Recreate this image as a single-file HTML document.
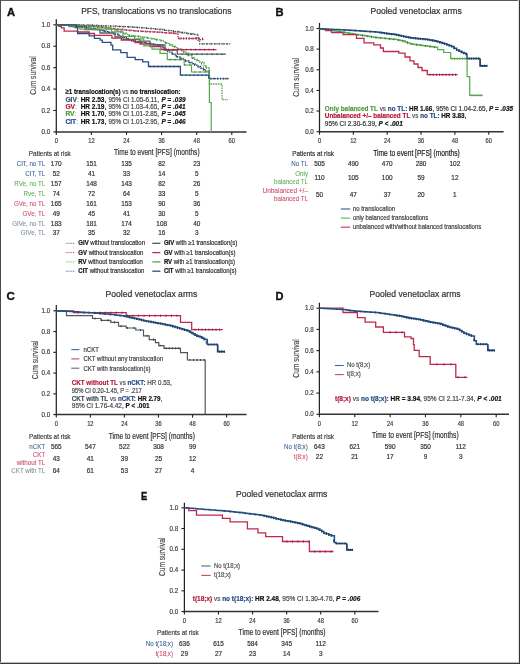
<!DOCTYPE html><html><head><meta charset="utf-8"><style>html,body{margin:0;padding:0;background:#fff;}svg{display:block;will-change:transform;}text{font-family:"Liberation Sans",sans-serif;}</style></head><body>
<svg width="520" height="664" viewBox="0 0 520 664">
<rect x="0" y="0" width="520" height="664" fill="#fff"/>
<text x="6.90" y="15.90" font-size="11.2" fill="#111" stroke="#111" stroke-width="0.35" font-weight="bold">A</text>
<text x="81.20" y="13.80" font-size="8.4" fill="#333" stroke="#333" stroke-width="0.2" textLength="150.30" lengthAdjust="spacingAndGlyphs">PFS, translocations vs no translocations</text>
<line x1="56.30" y1="19.30" x2="56.30" y2="132.50" stroke="#222" stroke-width="1.25"/>
<line x1="55.70" y1="131.90" x2="246.50" y2="131.90" stroke="#333" stroke-width="1.5"/>
<line x1="53.30" y1="131.90" x2="56.30" y2="131.90" stroke="#222" stroke-width="1.1"/>
<text x="50.10" y="134.00" font-size="6.7" fill="#444" stroke="#444" stroke-width="0.2" text-anchor="end" textLength="8.66" lengthAdjust="spacingAndGlyphs">0.0</text>
<line x1="53.30" y1="110.48" x2="56.30" y2="110.48" stroke="#222" stroke-width="1.1"/>
<text x="50.10" y="112.58" font-size="6.7" fill="#444" stroke="#444" stroke-width="0.2" text-anchor="end" textLength="8.66" lengthAdjust="spacingAndGlyphs">0.2</text>
<line x1="53.30" y1="89.06" x2="56.30" y2="89.06" stroke="#222" stroke-width="1.1"/>
<text x="50.10" y="91.16" font-size="6.7" fill="#444" stroke="#444" stroke-width="0.2" text-anchor="end" textLength="8.66" lengthAdjust="spacingAndGlyphs">0.4</text>
<line x1="53.30" y1="67.64" x2="56.30" y2="67.64" stroke="#222" stroke-width="1.1"/>
<text x="50.10" y="69.74" font-size="6.7" fill="#444" stroke="#444" stroke-width="0.2" text-anchor="end" textLength="8.66" lengthAdjust="spacingAndGlyphs">0.6</text>
<line x1="53.30" y1="46.22" x2="56.30" y2="46.22" stroke="#222" stroke-width="1.1"/>
<text x="50.10" y="48.32" font-size="6.7" fill="#444" stroke="#444" stroke-width="0.2" text-anchor="end" textLength="8.66" lengthAdjust="spacingAndGlyphs">0.8</text>
<line x1="53.30" y1="24.80" x2="56.30" y2="24.80" stroke="#222" stroke-width="1.1"/>
<text x="50.10" y="26.90" font-size="6.7" fill="#444" stroke="#444" stroke-width="0.2" text-anchor="end" textLength="8.66" lengthAdjust="spacingAndGlyphs">1.0</text>
<line x1="56.30" y1="131.90" x2="56.30" y2="134.90" stroke="#222" stroke-width="1.1"/>
<text x="56.30" y="143.10" font-size="6.7" fill="#444" stroke="#444" stroke-width="0.2" text-anchor="middle" textLength="3.20" lengthAdjust="spacingAndGlyphs">0</text>
<line x1="91.40" y1="131.90" x2="91.40" y2="134.90" stroke="#222" stroke-width="1.1"/>
<text x="91.40" y="143.10" font-size="6.7" fill="#444" stroke="#444" stroke-width="0.2" text-anchor="middle" textLength="6.41" lengthAdjust="spacingAndGlyphs">12</text>
<line x1="126.50" y1="131.90" x2="126.50" y2="134.90" stroke="#222" stroke-width="1.1"/>
<text x="126.50" y="143.10" font-size="6.7" fill="#444" stroke="#444" stroke-width="0.2" text-anchor="middle" textLength="6.41" lengthAdjust="spacingAndGlyphs">24</text>
<line x1="161.60" y1="131.90" x2="161.60" y2="134.90" stroke="#222" stroke-width="1.1"/>
<text x="161.60" y="143.10" font-size="6.7" fill="#444" stroke="#444" stroke-width="0.2" text-anchor="middle" textLength="6.41" lengthAdjust="spacingAndGlyphs">36</text>
<line x1="196.70" y1="131.90" x2="196.70" y2="134.90" stroke="#222" stroke-width="1.1"/>
<text x="196.70" y="143.10" font-size="6.7" fill="#444" stroke="#444" stroke-width="0.2" text-anchor="middle" textLength="6.41" lengthAdjust="spacingAndGlyphs">48</text>
<line x1="231.80" y1="131.90" x2="231.80" y2="134.90" stroke="#222" stroke-width="1.1"/>
<text x="231.80" y="143.10" font-size="6.7" fill="#444" stroke="#444" stroke-width="0.2" text-anchor="middle" textLength="6.41" lengthAdjust="spacingAndGlyphs">60</text>
<text transform="translate(36.40,75.55) rotate(-90)" font-size="8.4" fill="#444" stroke="#444" stroke-width="0.15" text-anchor="middle" textLength="38.6" lengthAdjust="spacingAndGlyphs">Cum survival</text>
<path d="M56.30 24.80H59.36V24.84H62.43V24.87H65.49V24.91H68.55V24.95H71.62V24.98H74.68V25.02H77.75V25.05H80.81V25.09H83.87V25.13H86.94V25.16H90.00V25.20H92.92V25.32H95.83V25.45H98.75V25.57H101.67V25.70H104.58V25.82H107.50V25.95H110.42V26.07H113.33V26.20H116.25V26.32H119.17V26.45H122.08V26.57H125.00V26.70H127.86V26.89H130.71V27.07H133.57V27.26H136.43V27.44H139.29V27.63H142.14V27.81H145.00V28.00H148.00V28.30H151.00V28.60H154.00V28.90H157.00V29.20H160.00V29.50H163.00V29.90H166.00V30.30H169.00V30.70H172.00V31.10H175.00V31.50H178.08V32.00H181.17V32.50H184.25V33.00H187.33V33.50H190.42V34.00H193.50V34.50H198.00" fill="none" stroke="#56606a" stroke-width="1.3" stroke-dasharray="1.6 0.9"/>
<path d="M198.00 34.50H198.00V40.40H199.60V43.80H230.40" fill="none" stroke="#56606a" stroke-width="1.3" stroke-dasharray="1.6 0.9"/>
<line x1="70.00" y1="24.06" x2="70.00" y2="25.86" stroke="#3a4048" stroke-width="0.9"/>
<line x1="74.50" y1="24.12" x2="74.50" y2="25.92" stroke="#3a4048" stroke-width="0.9"/>
<line x1="79.00" y1="24.17" x2="79.00" y2="25.97" stroke="#3a4048" stroke-width="0.9"/>
<line x1="83.50" y1="24.22" x2="83.50" y2="26.02" stroke="#3a4048" stroke-width="0.9"/>
<line x1="88.00" y1="24.28" x2="88.00" y2="26.08" stroke="#3a4048" stroke-width="0.9"/>
<line x1="92.50" y1="24.41" x2="92.50" y2="26.21" stroke="#3a4048" stroke-width="0.9"/>
<line x1="97.00" y1="24.60" x2="97.00" y2="26.40" stroke="#3a4048" stroke-width="0.9"/>
<line x1="101.50" y1="24.79" x2="101.50" y2="26.59" stroke="#3a4048" stroke-width="0.9"/>
<line x1="106.00" y1="24.99" x2="106.00" y2="26.79" stroke="#3a4048" stroke-width="0.9"/>
<line x1="110.50" y1="25.18" x2="110.50" y2="26.98" stroke="#3a4048" stroke-width="0.9"/>
<line x1="115.00" y1="25.37" x2="115.00" y2="27.17" stroke="#3a4048" stroke-width="0.9"/>
<line x1="119.50" y1="25.56" x2="119.50" y2="27.36" stroke="#3a4048" stroke-width="0.9"/>
<line x1="124.00" y1="25.76" x2="124.00" y2="27.56" stroke="#3a4048" stroke-width="0.9"/>
<line x1="128.50" y1="26.03" x2="128.50" y2="27.83" stroke="#3a4048" stroke-width="0.9"/>
<line x1="133.00" y1="26.32" x2="133.00" y2="28.12" stroke="#3a4048" stroke-width="0.9"/>
<line x1="137.50" y1="26.61" x2="137.50" y2="28.41" stroke="#3a4048" stroke-width="0.9"/>
<line x1="142.00" y1="26.91" x2="142.00" y2="28.70" stroke="#3a4048" stroke-width="0.9"/>
<line x1="146.50" y1="27.25" x2="146.50" y2="29.05" stroke="#3a4048" stroke-width="0.9"/>
<line x1="151.00" y1="27.70" x2="151.00" y2="29.50" stroke="#3a4048" stroke-width="0.9"/>
<line x1="155.50" y1="28.15" x2="155.50" y2="29.95" stroke="#3a4048" stroke-width="0.9"/>
<line x1="160.00" y1="28.60" x2="160.00" y2="30.40" stroke="#3a4048" stroke-width="0.9"/>
<line x1="164.50" y1="29.20" x2="164.50" y2="31.00" stroke="#3a4048" stroke-width="0.9"/>
<line x1="169.00" y1="29.80" x2="169.00" y2="31.60" stroke="#3a4048" stroke-width="0.9"/>
<line x1="173.50" y1="30.40" x2="173.50" y2="32.20" stroke="#3a4048" stroke-width="0.9"/>
<line x1="178.00" y1="31.09" x2="178.00" y2="32.89" stroke="#3a4048" stroke-width="0.9"/>
<line x1="182.50" y1="31.82" x2="182.50" y2="33.62" stroke="#3a4048" stroke-width="0.9"/>
<line x1="187.00" y1="32.55" x2="187.00" y2="34.35" stroke="#3a4048" stroke-width="0.9"/>
<line x1="191.50" y1="33.28" x2="191.50" y2="35.08" stroke="#3a4048" stroke-width="0.9"/>
<line x1="196.00" y1="36.88" x2="196.00" y2="38.68" stroke="#3a4048" stroke-width="0.9"/>
<line x1="203.00" y1="42.90" x2="203.00" y2="44.70" stroke="#3a4048" stroke-width="0.9"/>
<line x1="207.00" y1="42.90" x2="207.00" y2="44.70" stroke="#3a4048" stroke-width="0.9"/>
<line x1="211.00" y1="42.90" x2="211.00" y2="44.70" stroke="#3a4048" stroke-width="0.9"/>
<line x1="215.00" y1="42.90" x2="215.00" y2="44.70" stroke="#3a4048" stroke-width="0.9"/>
<line x1="219.00" y1="42.90" x2="219.00" y2="44.70" stroke="#3a4048" stroke-width="0.9"/>
<line x1="223.00" y1="42.90" x2="223.00" y2="44.70" stroke="#3a4048" stroke-width="0.9"/>
<line x1="227.00" y1="42.90" x2="227.00" y2="44.70" stroke="#3a4048" stroke-width="0.9"/>
<path d="M56.30 24.80H59.26V24.89H62.22V24.98H65.19V25.06H68.15V25.15H71.11V25.24H74.08V25.32H77.04V25.41H80.00V25.50H82.86V25.71H85.71V25.93H88.57V26.14H91.43V26.36H94.29V26.57H97.14V26.79H100.00V27.00H102.86V27.36H105.71V27.71H108.57V28.07H111.43V28.43H114.29V28.79H117.14V29.14H120.00V29.50H123.00V29.80H126.00V30.10H129.00V30.40H132.00V30.70H135.00V31.00H138.12V31.16H141.25V31.32H144.38V31.49H147.50V31.65H150.62V31.81H153.75V31.97H156.88V32.14H160.00V32.30H163.00V32.54H166.00V32.78H169.00V33.02H172.00V33.26H175.00V33.50H178.00" fill="none" stroke="#bc2b4d" stroke-width="1.3" stroke-dasharray="1.6 0.9"/>
<path d="M178.00 33.50H178.00V38.50H200.00V39.60H204.20" fill="none" stroke="#bc2b4d" stroke-width="1.3" stroke-dasharray="1.6 0.9"/>
<line x1="66.00" y1="24.19" x2="66.00" y2="25.99" stroke="#8c1c38" stroke-width="1.0"/>
<line x1="70.00" y1="24.30" x2="70.00" y2="26.10" stroke="#8c1c38" stroke-width="1.0"/>
<line x1="74.00" y1="24.42" x2="74.00" y2="26.22" stroke="#8c1c38" stroke-width="1.0"/>
<line x1="78.00" y1="24.54" x2="78.00" y2="26.34" stroke="#8c1c38" stroke-width="1.0"/>
<line x1="82.00" y1="24.75" x2="82.00" y2="26.55" stroke="#8c1c38" stroke-width="1.0"/>
<line x1="86.00" y1="25.05" x2="86.00" y2="26.85" stroke="#8c1c38" stroke-width="1.0"/>
<line x1="90.00" y1="25.35" x2="90.00" y2="27.15" stroke="#8c1c38" stroke-width="1.0"/>
<line x1="94.00" y1="25.65" x2="94.00" y2="27.45" stroke="#8c1c38" stroke-width="1.0"/>
<line x1="98.00" y1="25.95" x2="98.00" y2="27.75" stroke="#8c1c38" stroke-width="1.0"/>
<line x1="102.00" y1="26.35" x2="102.00" y2="28.15" stroke="#8c1c38" stroke-width="1.0"/>
<line x1="106.00" y1="26.85" x2="106.00" y2="28.65" stroke="#8c1c38" stroke-width="1.0"/>
<line x1="110.00" y1="27.35" x2="110.00" y2="29.15" stroke="#8c1c38" stroke-width="1.0"/>
<line x1="114.00" y1="27.85" x2="114.00" y2="29.65" stroke="#8c1c38" stroke-width="1.0"/>
<line x1="118.00" y1="28.35" x2="118.00" y2="30.15" stroke="#8c1c38" stroke-width="1.0"/>
<line x1="122.00" y1="28.80" x2="122.00" y2="30.60" stroke="#8c1c38" stroke-width="1.0"/>
<line x1="126.00" y1="29.20" x2="126.00" y2="31.00" stroke="#8c1c38" stroke-width="1.0"/>
<line x1="130.00" y1="29.60" x2="130.00" y2="31.40" stroke="#8c1c38" stroke-width="1.0"/>
<line x1="134.00" y1="30.00" x2="134.00" y2="31.80" stroke="#8c1c38" stroke-width="1.0"/>
<line x1="138.00" y1="30.26" x2="138.00" y2="32.06" stroke="#8c1c38" stroke-width="1.0"/>
<line x1="142.00" y1="30.46" x2="142.00" y2="32.26" stroke="#8c1c38" stroke-width="1.0"/>
<line x1="146.00" y1="30.67" x2="146.00" y2="32.47" stroke="#8c1c38" stroke-width="1.0"/>
<line x1="150.00" y1="30.88" x2="150.00" y2="32.68" stroke="#8c1c38" stroke-width="1.0"/>
<line x1="154.00" y1="31.09" x2="154.00" y2="32.89" stroke="#8c1c38" stroke-width="1.0"/>
<line x1="158.00" y1="31.30" x2="158.00" y2="33.10" stroke="#8c1c38" stroke-width="1.0"/>
<line x1="162.00" y1="31.56" x2="162.00" y2="33.36" stroke="#8c1c38" stroke-width="1.0"/>
<line x1="166.00" y1="31.88" x2="166.00" y2="33.68" stroke="#8c1c38" stroke-width="1.0"/>
<line x1="170.00" y1="32.20" x2="170.00" y2="34.00" stroke="#8c1c38" stroke-width="1.0"/>
<line x1="174.00" y1="32.52" x2="174.00" y2="34.32" stroke="#8c1c38" stroke-width="1.0"/>
<line x1="180.00" y1="37.60" x2="180.00" y2="39.40" stroke="#8c1c38" stroke-width="1.0"/>
<line x1="183.20" y1="37.60" x2="183.20" y2="39.40" stroke="#8c1c38" stroke-width="1.0"/>
<line x1="186.40" y1="37.60" x2="186.40" y2="39.40" stroke="#8c1c38" stroke-width="1.0"/>
<line x1="189.60" y1="37.60" x2="189.60" y2="39.40" stroke="#8c1c38" stroke-width="1.0"/>
<line x1="192.80" y1="37.60" x2="192.80" y2="39.40" stroke="#8c1c38" stroke-width="1.0"/>
<line x1="196.00" y1="37.60" x2="196.00" y2="39.40" stroke="#8c1c38" stroke-width="1.0"/>
<line x1="199.20" y1="37.60" x2="199.20" y2="39.40" stroke="#8c1c38" stroke-width="1.0"/>
<line x1="202.40" y1="37.60" x2="202.40" y2="39.40" stroke="#8c1c38" stroke-width="1.0"/>
<path d="M56.30 24.80H59.26V24.89H62.22V24.98H65.19V25.06H68.15V25.15H71.11V25.24H74.08V25.32H77.04V25.41H80.00V25.50H82.86V25.71H85.71V25.93H88.57V26.14H91.43V26.36H94.29V26.57H97.14V26.79H100.00V27.00H103.00V27.60H106.00V28.20H109.00V28.80H112.00V29.40H115.00V30.00H117.80V31.08H120.60V32.16H123.40V33.24H126.20V34.32H129.00V35.40H132.20V35.82H135.40V36.24H138.60V36.66H141.80V37.08H145.00V37.50H148.00V38.08H151.00V38.66H154.00V39.24H157.00V39.82H160.00V40.40H163.33V41.93H166.67V43.47H170.00V45.00H172.67V46.27H175.33V47.53H178.00V48.80H181.50V50.90H185.00V53.00H188.50V55.50H192.00V58.00H194.53V59.33H197.07V60.67H199.60V62.00H204.00V66.00H206.70V68.00H209.40V70.00H209.40" fill="none" stroke="#58a84f" stroke-width="1.3" stroke-dasharray="1.6 0.9"/>
<path d="M209.40 70.00H209.40V84.00H222.00V99.60H227.90" fill="none" stroke="#58a84f" stroke-width="1.3" stroke-dasharray="1.6 0.9"/>
<line x1="62.00" y1="24.07" x2="62.00" y2="25.87" stroke="#3d7a35" stroke-width="0.9"/>
<line x1="66.50" y1="24.20" x2="66.50" y2="26.00" stroke="#3d7a35" stroke-width="0.9"/>
<line x1="71.00" y1="24.33" x2="71.00" y2="26.13" stroke="#3d7a35" stroke-width="0.9"/>
<line x1="75.50" y1="24.47" x2="75.50" y2="26.27" stroke="#3d7a35" stroke-width="0.9"/>
<line x1="80.00" y1="24.60" x2="80.00" y2="26.40" stroke="#3d7a35" stroke-width="0.9"/>
<line x1="84.50" y1="24.94" x2="84.50" y2="26.74" stroke="#3d7a35" stroke-width="0.9"/>
<line x1="89.00" y1="25.28" x2="89.00" y2="27.07" stroke="#3d7a35" stroke-width="0.9"/>
<line x1="93.50" y1="25.61" x2="93.50" y2="27.41" stroke="#3d7a35" stroke-width="0.9"/>
<line x1="98.00" y1="25.95" x2="98.00" y2="27.75" stroke="#3d7a35" stroke-width="0.9"/>
<line x1="102.50" y1="26.60" x2="102.50" y2="28.40" stroke="#3d7a35" stroke-width="0.9"/>
<line x1="107.00" y1="27.50" x2="107.00" y2="29.30" stroke="#3d7a35" stroke-width="0.9"/>
<line x1="111.50" y1="28.40" x2="111.50" y2="30.20" stroke="#3d7a35" stroke-width="0.9"/>
<line x1="116.00" y1="29.49" x2="116.00" y2="31.29" stroke="#3d7a35" stroke-width="0.9"/>
<line x1="120.50" y1="31.22" x2="120.50" y2="33.02" stroke="#3d7a35" stroke-width="0.9"/>
<line x1="125.00" y1="32.96" x2="125.00" y2="34.76" stroke="#3d7a35" stroke-width="0.9"/>
<line x1="129.50" y1="34.57" x2="129.50" y2="36.37" stroke="#3d7a35" stroke-width="0.9"/>
<line x1="134.00" y1="35.16" x2="134.00" y2="36.96" stroke="#3d7a35" stroke-width="0.9"/>
<line x1="138.50" y1="35.75" x2="138.50" y2="37.55" stroke="#3d7a35" stroke-width="0.9"/>
<line x1="143.00" y1="36.34" x2="143.00" y2="38.14" stroke="#3d7a35" stroke-width="0.9"/>
<line x1="147.50" y1="37.08" x2="147.50" y2="38.88" stroke="#3d7a35" stroke-width="0.9"/>
<line x1="152.00" y1="37.95" x2="152.00" y2="39.75" stroke="#3d7a35" stroke-width="0.9"/>
<line x1="156.50" y1="38.82" x2="156.50" y2="40.62" stroke="#3d7a35" stroke-width="0.9"/>
<line x1="161.00" y1="39.96" x2="161.00" y2="41.76" stroke="#3d7a35" stroke-width="0.9"/>
<line x1="165.50" y1="42.03" x2="165.50" y2="43.83" stroke="#3d7a35" stroke-width="0.9"/>
<line x1="170.00" y1="44.10" x2="170.00" y2="45.90" stroke="#3d7a35" stroke-width="0.9"/>
<line x1="174.50" y1="46.24" x2="174.50" y2="48.04" stroke="#3d7a35" stroke-width="0.9"/>
<line x1="179.00" y1="48.50" x2="179.00" y2="50.30" stroke="#3d7a35" stroke-width="0.9"/>
<line x1="183.50" y1="51.20" x2="183.50" y2="53.00" stroke="#3d7a35" stroke-width="0.9"/>
<line x1="188.00" y1="54.24" x2="188.00" y2="56.04" stroke="#3d7a35" stroke-width="0.9"/>
<line x1="192.50" y1="57.36" x2="192.50" y2="59.16" stroke="#3d7a35" stroke-width="0.9"/>
<line x1="197.00" y1="59.73" x2="197.00" y2="61.53" stroke="#3d7a35" stroke-width="0.9"/>
<line x1="201.50" y1="62.83" x2="201.50" y2="64.63" stroke="#3d7a35" stroke-width="0.9"/>
<line x1="206.00" y1="66.58" x2="206.00" y2="68.38" stroke="#3d7a35" stroke-width="0.9"/>
<path d="M56.30 24.80H59.04V25.00H61.78V25.20H64.52V25.40H67.26V25.60H70.00V25.80H73.00V26.14H76.00V26.48H79.00V26.82H82.00V27.16H85.00V27.50H88.00V28.00H91.00V28.50H94.00V29.00H97.00V29.50H100.00V30.00H103.00V30.80H106.00V31.60H109.00V32.40H112.00V33.20H115.00V34.00H117.83V35.17H120.67V36.33H123.50V37.50H126.33V38.67H129.17V39.83H132.00V41.00H135.25V41.50H138.50V42.00H141.75V42.50H145.00V43.00H148.00V43.44H151.00V43.88H154.00V44.32H157.00V44.76H160.00V45.20H162.90V47.80H165.80V50.40H168.87V52.20H171.93V54.00H175.00V55.80H177.70V57.10H180.40V58.40H183.10V59.70H185.80V61.00H188.85V62.38H191.90V63.75H194.95V65.12H198.00V66.50H200.60V68.07H203.20V69.63H205.80V71.20H208.80V72.00H208.80" fill="none" stroke="#1b3d66" stroke-width="1.3" stroke-dasharray="1.6 0.9"/>
<path d="M208.80 72.00H208.80V78.60H228.50" fill="none" stroke="#1b3d66" stroke-width="1.3" stroke-dasharray="1.6 0.9"/>
<line x1="64.00" y1="24.46" x2="64.00" y2="26.26" stroke="#1b3d66" stroke-width="0.9"/>
<line x1="68.50" y1="24.79" x2="68.50" y2="26.59" stroke="#1b3d66" stroke-width="0.9"/>
<line x1="73.00" y1="25.24" x2="73.00" y2="27.04" stroke="#1b3d66" stroke-width="0.9"/>
<line x1="77.50" y1="25.75" x2="77.50" y2="27.55" stroke="#1b3d66" stroke-width="0.9"/>
<line x1="82.00" y1="26.26" x2="82.00" y2="28.06" stroke="#1b3d66" stroke-width="0.9"/>
<line x1="86.50" y1="26.85" x2="86.50" y2="28.65" stroke="#1b3d66" stroke-width="0.9"/>
<line x1="91.00" y1="27.60" x2="91.00" y2="29.40" stroke="#1b3d66" stroke-width="0.9"/>
<line x1="95.50" y1="28.35" x2="95.50" y2="30.15" stroke="#1b3d66" stroke-width="0.9"/>
<line x1="100.00" y1="29.10" x2="100.00" y2="30.90" stroke="#1b3d66" stroke-width="0.9"/>
<line x1="104.50" y1="30.30" x2="104.50" y2="32.10" stroke="#1b3d66" stroke-width="0.9"/>
<line x1="109.00" y1="31.50" x2="109.00" y2="33.30" stroke="#1b3d66" stroke-width="0.9"/>
<line x1="113.50" y1="32.70" x2="113.50" y2="34.50" stroke="#1b3d66" stroke-width="0.9"/>
<line x1="118.00" y1="34.34" x2="118.00" y2="36.14" stroke="#1b3d66" stroke-width="0.9"/>
<line x1="122.50" y1="36.19" x2="122.50" y2="37.99" stroke="#1b3d66" stroke-width="0.9"/>
<line x1="127.00" y1="38.04" x2="127.00" y2="39.84" stroke="#1b3d66" stroke-width="0.9"/>
<line x1="131.50" y1="39.89" x2="131.50" y2="41.69" stroke="#1b3d66" stroke-width="0.9"/>
<line x1="136.00" y1="40.72" x2="136.00" y2="42.52" stroke="#1b3d66" stroke-width="0.9"/>
<line x1="140.50" y1="41.41" x2="140.50" y2="43.21" stroke="#1b3d66" stroke-width="0.9"/>
<line x1="145.00" y1="42.10" x2="145.00" y2="43.90" stroke="#1b3d66" stroke-width="0.9"/>
<line x1="149.50" y1="42.76" x2="149.50" y2="44.56" stroke="#1b3d66" stroke-width="0.9"/>
<line x1="154.00" y1="43.42" x2="154.00" y2="45.22" stroke="#1b3d66" stroke-width="0.9"/>
<line x1="158.50" y1="44.08" x2="158.50" y2="45.88" stroke="#1b3d66" stroke-width="0.9"/>
<line x1="163.00" y1="46.99" x2="163.00" y2="48.79" stroke="#1b3d66" stroke-width="0.9"/>
<line x1="167.50" y1="50.50" x2="167.50" y2="52.30" stroke="#1b3d66" stroke-width="0.9"/>
<line x1="172.00" y1="53.14" x2="172.00" y2="54.94" stroke="#1b3d66" stroke-width="0.9"/>
<line x1="176.50" y1="55.62" x2="176.50" y2="57.42" stroke="#1b3d66" stroke-width="0.9"/>
<line x1="181.00" y1="57.79" x2="181.00" y2="59.59" stroke="#1b3d66" stroke-width="0.9"/>
<line x1="185.50" y1="59.96" x2="185.50" y2="61.76" stroke="#1b3d66" stroke-width="0.9"/>
<line x1="190.00" y1="61.99" x2="190.00" y2="63.79" stroke="#1b3d66" stroke-width="0.9"/>
<line x1="194.50" y1="64.02" x2="194.50" y2="65.82" stroke="#1b3d66" stroke-width="0.9"/>
<line x1="199.00" y1="66.20" x2="199.00" y2="68.00" stroke="#1b3d66" stroke-width="0.9"/>
<line x1="203.50" y1="68.91" x2="203.50" y2="70.71" stroke="#1b3d66" stroke-width="0.9"/>
<line x1="211.00" y1="77.60" x2="211.00" y2="79.60" stroke="#1b3d66" stroke-width="1.0"/>
<line x1="214.20" y1="77.60" x2="214.20" y2="79.60" stroke="#1b3d66" stroke-width="1.0"/>
<line x1="217.40" y1="77.60" x2="217.40" y2="79.60" stroke="#1b3d66" stroke-width="1.0"/>
<line x1="220.60" y1="77.60" x2="220.60" y2="79.60" stroke="#1b3d66" stroke-width="1.0"/>
<line x1="223.80" y1="77.60" x2="223.80" y2="79.60" stroke="#1b3d66" stroke-width="1.0"/>
<line x1="227.00" y1="77.60" x2="227.00" y2="79.60" stroke="#1b3d66" stroke-width="1.0"/>
<path d="M56.30 24.80H70.00V26.50H85.00V29.50H100.00V33.00H115.00V37.00H123.00V39.40H140.00V41.20H150.00V45.00H165.00V50.00H177.30V54.20H226.00" fill="none" stroke="#56606a" stroke-width="1.3"/>
<line x1="182.00" y1="53.30" x2="182.00" y2="55.10" stroke="#3a4048" stroke-width="0.9"/>
<line x1="187.00" y1="53.30" x2="187.00" y2="55.10" stroke="#3a4048" stroke-width="0.9"/>
<line x1="192.00" y1="53.30" x2="192.00" y2="55.10" stroke="#3a4048" stroke-width="0.9"/>
<line x1="197.00" y1="53.30" x2="197.00" y2="55.10" stroke="#3a4048" stroke-width="0.9"/>
<line x1="202.00" y1="53.30" x2="202.00" y2="55.10" stroke="#3a4048" stroke-width="0.9"/>
<line x1="207.00" y1="53.30" x2="207.00" y2="55.10" stroke="#3a4048" stroke-width="0.9"/>
<line x1="212.00" y1="53.30" x2="212.00" y2="55.10" stroke="#3a4048" stroke-width="0.9"/>
<line x1="217.00" y1="53.30" x2="217.00" y2="55.10" stroke="#3a4048" stroke-width="0.9"/>
<line x1="222.00" y1="53.30" x2="222.00" y2="55.10" stroke="#3a4048" stroke-width="0.9"/>
<path d="M56.30 24.80H58.80V26.30H61.30V27.90H64.10V31.10H77.60V32.00H89.10V33.50H94.40V35.40H111.90V38.20H121.30V40.20H135.00V42.50H140.00V44.00H150.00V46.50H161.00V49.60H216.50" fill="none" stroke="#bc2b4d" stroke-width="1.3"/>
<line x1="164.00" y1="48.70" x2="164.00" y2="50.50" stroke="#8c1c38" stroke-width="0.9"/>
<line x1="168.50" y1="48.70" x2="168.50" y2="50.50" stroke="#8c1c38" stroke-width="0.9"/>
<line x1="173.00" y1="48.70" x2="173.00" y2="50.50" stroke="#8c1c38" stroke-width="0.9"/>
<line x1="177.50" y1="48.70" x2="177.50" y2="50.50" stroke="#8c1c38" stroke-width="0.9"/>
<line x1="182.00" y1="48.70" x2="182.00" y2="50.50" stroke="#8c1c38" stroke-width="0.9"/>
<line x1="186.50" y1="48.70" x2="186.50" y2="50.50" stroke="#8c1c38" stroke-width="0.9"/>
<line x1="191.00" y1="48.70" x2="191.00" y2="50.50" stroke="#8c1c38" stroke-width="0.9"/>
<line x1="195.50" y1="48.70" x2="195.50" y2="50.50" stroke="#8c1c38" stroke-width="0.9"/>
<line x1="200.00" y1="48.70" x2="200.00" y2="50.50" stroke="#8c1c38" stroke-width="0.9"/>
<line x1="204.50" y1="48.70" x2="204.50" y2="50.50" stroke="#8c1c38" stroke-width="0.9"/>
<line x1="209.00" y1="48.70" x2="209.00" y2="50.50" stroke="#8c1c38" stroke-width="0.9"/>
<line x1="213.50" y1="48.70" x2="213.50" y2="50.50" stroke="#8c1c38" stroke-width="0.9"/>
<path d="M56.30 24.80H69.40V25.80H74.20V27.70H80.00V29.10H111.50V31.90H123.00V36.50H134.60V38.80H143.80V45.80H152.00V49.20H160.00V53.30H167.30V59.60H184.20V65.00H191.50V72.00H209.40V102.50H211.20V131.90H211.20" fill="none" stroke="#58a84f" stroke-width="1.2"/>
<line x1="170.00" y1="58.70" x2="170.00" y2="60.50" stroke="#3d7a35" stroke-width="0.9"/>
<line x1="175.00" y1="58.70" x2="175.00" y2="60.50" stroke="#3d7a35" stroke-width="0.9"/>
<line x1="180.00" y1="58.70" x2="180.00" y2="60.50" stroke="#3d7a35" stroke-width="0.9"/>
<line x1="185.00" y1="64.10" x2="185.00" y2="65.90" stroke="#3d7a35" stroke-width="0.9"/>
<line x1="190.00" y1="64.10" x2="190.00" y2="65.90" stroke="#3d7a35" stroke-width="0.9"/>
<line x1="195.00" y1="71.10" x2="195.00" y2="72.90" stroke="#3d7a35" stroke-width="0.9"/>
<line x1="200.00" y1="71.10" x2="200.00" y2="72.90" stroke="#3d7a35" stroke-width="0.9"/>
<line x1="205.00" y1="71.10" x2="205.00" y2="72.90" stroke="#3d7a35" stroke-width="0.9"/>
<path d="M56.30 24.80H76.20V27.70H77.60V33.50H89.10V35.90H94.40V38.30H100.20V40.20H102.30V42.30H111.00V45.20H112.70V49.80H120.80V52.70H127.10V57.30H135.20V59.60H142.70V61.90H148.50V66.50H180.40V75.20H208.80V78.60H208.80" fill="none" stroke="#2a4f85" stroke-width="1.3"/>
<line x1="150.00" y1="65.60" x2="150.00" y2="67.40" stroke="#1b3d66" stroke-width="0.9"/>
<line x1="154.00" y1="65.60" x2="154.00" y2="67.40" stroke="#1b3d66" stroke-width="0.9"/>
<line x1="158.00" y1="65.60" x2="158.00" y2="67.40" stroke="#1b3d66" stroke-width="0.9"/>
<line x1="162.00" y1="65.60" x2="162.00" y2="67.40" stroke="#1b3d66" stroke-width="0.9"/>
<line x1="166.00" y1="65.60" x2="166.00" y2="67.40" stroke="#1b3d66" stroke-width="0.9"/>
<line x1="170.00" y1="65.60" x2="170.00" y2="67.40" stroke="#1b3d66" stroke-width="0.9"/>
<line x1="174.00" y1="65.60" x2="174.00" y2="67.40" stroke="#1b3d66" stroke-width="0.9"/>
<line x1="178.00" y1="65.60" x2="178.00" y2="67.40" stroke="#1b3d66" stroke-width="0.9"/>
<line x1="182.00" y1="74.30" x2="182.00" y2="76.10" stroke="#1b3d66" stroke-width="0.9"/>
<line x1="186.00" y1="74.30" x2="186.00" y2="76.10" stroke="#1b3d66" stroke-width="0.9"/>
<line x1="190.00" y1="74.30" x2="190.00" y2="76.10" stroke="#1b3d66" stroke-width="0.9"/>
<line x1="194.00" y1="74.30" x2="194.00" y2="76.10" stroke="#1b3d66" stroke-width="0.9"/>
<line x1="198.00" y1="74.30" x2="198.00" y2="76.10" stroke="#1b3d66" stroke-width="0.9"/>
<line x1="202.00" y1="74.30" x2="202.00" y2="76.10" stroke="#1b3d66" stroke-width="0.9"/>
<line x1="206.00" y1="74.30" x2="206.00" y2="76.10" stroke="#1b3d66" stroke-width="0.9"/>
<text x="65.40" y="94.00" font-size="7.2" fill="#111" stroke="#111" stroke-width="0.2" textLength="115.20" lengthAdjust="spacingAndGlyphs"><tspan font-weight="bold">≥1 translocation(s)</tspan><tspan fill="#555" font-weight="normal" stroke="#555"> vs </tspan><tspan font-weight="bold">no translocation:</tspan></text>
<text x="65.40" y="101.60" font-size="7.2" fill="#3d4d5c" stroke="#3d4d5c" stroke-width="0.2" textLength="13.40" lengthAdjust="spacingAndGlyphs"><tspan font-weight="bold">GIV</tspan><tspan font-weight="normal" fill="#8a9aa8" stroke="#8a9aa8">:</tspan></text>
<text x="80.70" y="101.60" font-size="7.2" fill="#111" stroke="#111" stroke-width="0.2" font-weight="bold" textLength="25.60" lengthAdjust="spacingAndGlyphs"><tspan>HR 2.53</tspan><tspan font-weight="normal">,</tspan></text>
<text x="108.50" y="101.60" font-size="7.2" fill="#444" stroke="#444" stroke-width="0.2" textLength="50.60" lengthAdjust="spacingAndGlyphs">95% CI 1.05-6.11,</text>
<text x="161.50" y="101.60" font-size="7.2" fill="#111" stroke="#111" stroke-width="0.2" font-weight="bold" font-style="italic" textLength="24.00" lengthAdjust="spacingAndGlyphs"><tspan>P</tspan><tspan font-style="normal"> = </tspan><tspan>.039</tspan></text>
<text x="65.40" y="108.95" font-size="7.2" fill="#b5193f" stroke="#b5193f" stroke-width="0.2" textLength="11.53" lengthAdjust="spacingAndGlyphs"><tspan font-weight="bold">GV</tspan><tspan font-weight="normal" fill="#8a9aa8" stroke="#8a9aa8">:</tspan></text>
<text x="80.70" y="108.95" font-size="7.2" fill="#111" stroke="#111" stroke-width="0.2" font-weight="bold" textLength="25.60" lengthAdjust="spacingAndGlyphs"><tspan>HR 2.19</tspan><tspan font-weight="normal">,</tspan></text>
<text x="108.50" y="108.95" font-size="7.2" fill="#444" stroke="#444" stroke-width="0.2" textLength="50.60" lengthAdjust="spacingAndGlyphs">95% CI 1.03-4.65,</text>
<text x="161.50" y="108.95" font-size="7.2" fill="#111" stroke="#111" stroke-width="0.2" font-weight="bold" font-style="italic" textLength="24.00" lengthAdjust="spacingAndGlyphs"><tspan>P</tspan><tspan font-style="normal"> = </tspan><tspan>.041</tspan></text>
<text x="65.40" y="116.30" font-size="7.2" fill="#4a9e3c" stroke="#4a9e3c" stroke-width="0.2" textLength="11.04" lengthAdjust="spacingAndGlyphs"><tspan font-weight="bold">RV</tspan><tspan font-weight="normal" fill="#8a9aa8" stroke="#8a9aa8">:</tspan></text>
<text x="80.70" y="116.30" font-size="7.2" fill="#111" stroke="#111" stroke-width="0.2" font-weight="bold" textLength="25.60" lengthAdjust="spacingAndGlyphs"><tspan>HR 1.70</tspan><tspan font-weight="normal">,</tspan></text>
<text x="108.50" y="116.30" font-size="7.2" fill="#444" stroke="#444" stroke-width="0.2" textLength="50.60" lengthAdjust="spacingAndGlyphs">95% CI 1.01-2.85,</text>
<text x="161.50" y="116.30" font-size="7.2" fill="#111" stroke="#111" stroke-width="0.2" font-weight="bold" font-style="italic" textLength="24.00" lengthAdjust="spacingAndGlyphs"><tspan>P</tspan><tspan font-style="normal"> = </tspan><tspan>.045</tspan></text>
<text x="65.40" y="123.65" font-size="7.2" fill="#234a82" stroke="#234a82" stroke-width="0.2" textLength="12.65" lengthAdjust="spacingAndGlyphs"><tspan font-weight="bold">CIT</tspan><tspan font-weight="normal" fill="#8a9aa8" stroke="#8a9aa8">:</tspan></text>
<text x="80.70" y="123.65" font-size="7.2" fill="#111" stroke="#111" stroke-width="0.2" font-weight="bold" textLength="25.60" lengthAdjust="spacingAndGlyphs"><tspan>HR 1.73</tspan><tspan font-weight="normal">,</tspan></text>
<text x="108.50" y="123.65" font-size="7.2" fill="#444" stroke="#444" stroke-width="0.2" textLength="50.60" lengthAdjust="spacingAndGlyphs">95% CI 1.01-2.95,</text>
<text x="161.50" y="123.65" font-size="7.2" fill="#111" stroke="#111" stroke-width="0.2" font-weight="bold" font-style="italic" textLength="24.00" lengthAdjust="spacingAndGlyphs"><tspan>P</tspan><tspan font-style="normal"> = </tspan><tspan>.046</tspan></text>
<text x="114.00" y="155.40" font-size="8.6" fill="#333" stroke="#333" stroke-width="0.2" textLength="85.60" lengthAdjust="spacingAndGlyphs">Time to event [PFS] (months)</text>
<text x="28.80" y="156.00" font-size="7.0" fill="#444" stroke="#444" stroke-width="0.2" textLength="42.00" lengthAdjust="spacingAndGlyphs">Patients at risk</text>
<text x="45.20" y="165.70" font-size="6.9" fill="#3d6298" stroke="#3d6298" stroke-width="0.08" text-anchor="end" textLength="28.53" lengthAdjust="spacingAndGlyphs">CIT, no TL</text>
<text x="56.20" y="165.70" font-size="6.9" fill="#333" stroke="#333" stroke-width="0.2" text-anchor="middle" textLength="10.71" lengthAdjust="spacingAndGlyphs">170</text>
<text x="91.50" y="165.70" font-size="6.9" fill="#333" stroke="#333" stroke-width="0.2" text-anchor="middle" textLength="10.71" lengthAdjust="spacingAndGlyphs">151</text>
<text x="126.50" y="165.70" font-size="6.9" fill="#333" stroke="#333" stroke-width="0.2" text-anchor="middle" textLength="10.71" lengthAdjust="spacingAndGlyphs">135</text>
<text x="161.70" y="165.70" font-size="6.9" fill="#333" stroke="#333" stroke-width="0.2" text-anchor="middle" textLength="7.14" lengthAdjust="spacingAndGlyphs">82</text>
<text x="196.70" y="165.70" font-size="6.9" fill="#333" stroke="#333" stroke-width="0.2" text-anchor="middle" textLength="7.14" lengthAdjust="spacingAndGlyphs">23</text>
<text x="45.20" y="175.67" font-size="6.9" fill="#3d6298" stroke="#3d6298" stroke-width="0.08" text-anchor="end" textLength="19.90" lengthAdjust="spacingAndGlyphs">CIT, TL</text>
<text x="56.20" y="175.67" font-size="6.9" fill="#333" stroke="#333" stroke-width="0.2" text-anchor="middle" textLength="7.14" lengthAdjust="spacingAndGlyphs">52</text>
<text x="91.50" y="175.67" font-size="6.9" fill="#333" stroke="#333" stroke-width="0.2" text-anchor="middle" textLength="7.14" lengthAdjust="spacingAndGlyphs">41</text>
<text x="126.50" y="175.67" font-size="6.9" fill="#333" stroke="#333" stroke-width="0.2" text-anchor="middle" textLength="7.14" lengthAdjust="spacingAndGlyphs">33</text>
<text x="161.70" y="175.67" font-size="6.9" fill="#333" stroke="#333" stroke-width="0.2" text-anchor="middle" textLength="7.14" lengthAdjust="spacingAndGlyphs">14</text>
<text x="196.70" y="175.67" font-size="6.9" fill="#333" stroke="#333" stroke-width="0.2" text-anchor="middle" textLength="3.57" lengthAdjust="spacingAndGlyphs">5</text>
<text x="45.20" y="185.64" font-size="6.9" fill="#5cb052" stroke="#5cb052" stroke-width="0.08" text-anchor="end" textLength="30.84" lengthAdjust="spacingAndGlyphs">RVe, no TL</text>
<text x="56.20" y="185.64" font-size="6.9" fill="#333" stroke="#333" stroke-width="0.2" text-anchor="middle" textLength="10.71" lengthAdjust="spacingAndGlyphs">157</text>
<text x="91.50" y="185.64" font-size="6.9" fill="#333" stroke="#333" stroke-width="0.2" text-anchor="middle" textLength="10.71" lengthAdjust="spacingAndGlyphs">148</text>
<text x="126.50" y="185.64" font-size="6.9" fill="#333" stroke="#333" stroke-width="0.2" text-anchor="middle" textLength="10.71" lengthAdjust="spacingAndGlyphs">143</text>
<text x="161.70" y="185.64" font-size="6.9" fill="#333" stroke="#333" stroke-width="0.2" text-anchor="middle" textLength="7.14" lengthAdjust="spacingAndGlyphs">82</text>
<text x="196.70" y="185.64" font-size="6.9" fill="#333" stroke="#333" stroke-width="0.2" text-anchor="middle" textLength="7.14" lengthAdjust="spacingAndGlyphs">26</text>
<text x="45.20" y="195.61" font-size="6.9" fill="#5cb052" stroke="#5cb052" stroke-width="0.08" text-anchor="end" textLength="21.63" lengthAdjust="spacingAndGlyphs">Rve, TL</text>
<text x="56.20" y="195.61" font-size="6.9" fill="#333" stroke="#333" stroke-width="0.2" text-anchor="middle" textLength="7.14" lengthAdjust="spacingAndGlyphs">74</text>
<text x="91.50" y="195.61" font-size="6.9" fill="#333" stroke="#333" stroke-width="0.2" text-anchor="middle" textLength="7.14" lengthAdjust="spacingAndGlyphs">72</text>
<text x="126.50" y="195.61" font-size="6.9" fill="#333" stroke="#333" stroke-width="0.2" text-anchor="middle" textLength="7.14" lengthAdjust="spacingAndGlyphs">64</text>
<text x="161.70" y="195.61" font-size="6.9" fill="#333" stroke="#333" stroke-width="0.2" text-anchor="middle" textLength="7.14" lengthAdjust="spacingAndGlyphs">33</text>
<text x="196.70" y="195.61" font-size="6.9" fill="#333" stroke="#333" stroke-width="0.2" text-anchor="middle" textLength="3.57" lengthAdjust="spacingAndGlyphs">5</text>
<text x="45.20" y="205.58" font-size="6.9" fill="#cf4a6a" stroke="#cf4a6a" stroke-width="0.08" text-anchor="end" textLength="31.30" lengthAdjust="spacingAndGlyphs">GVe, no TL</text>
<text x="56.20" y="205.58" font-size="6.9" fill="#333" stroke="#333" stroke-width="0.2" text-anchor="middle" textLength="10.71" lengthAdjust="spacingAndGlyphs">165</text>
<text x="91.50" y="205.58" font-size="6.9" fill="#333" stroke="#333" stroke-width="0.2" text-anchor="middle" textLength="10.71" lengthAdjust="spacingAndGlyphs">161</text>
<text x="126.50" y="205.58" font-size="6.9" fill="#333" stroke="#333" stroke-width="0.2" text-anchor="middle" textLength="10.71" lengthAdjust="spacingAndGlyphs">153</text>
<text x="161.70" y="205.58" font-size="6.9" fill="#333" stroke="#333" stroke-width="0.2" text-anchor="middle" textLength="7.14" lengthAdjust="spacingAndGlyphs">90</text>
<text x="196.70" y="205.58" font-size="6.9" fill="#333" stroke="#333" stroke-width="0.2" text-anchor="middle" textLength="7.14" lengthAdjust="spacingAndGlyphs">36</text>
<text x="45.20" y="215.55" font-size="6.9" fill="#cf4a6a" stroke="#cf4a6a" stroke-width="0.08" text-anchor="end" textLength="22.67" lengthAdjust="spacingAndGlyphs">GVe, TL</text>
<text x="56.20" y="215.55" font-size="6.9" fill="#333" stroke="#333" stroke-width="0.2" text-anchor="middle" textLength="7.14" lengthAdjust="spacingAndGlyphs">49</text>
<text x="91.50" y="215.55" font-size="6.9" fill="#333" stroke="#333" stroke-width="0.2" text-anchor="middle" textLength="7.14" lengthAdjust="spacingAndGlyphs">45</text>
<text x="126.50" y="215.55" font-size="6.9" fill="#333" stroke="#333" stroke-width="0.2" text-anchor="middle" textLength="7.14" lengthAdjust="spacingAndGlyphs">41</text>
<text x="161.70" y="215.55" font-size="6.9" fill="#333" stroke="#333" stroke-width="0.2" text-anchor="middle" textLength="7.14" lengthAdjust="spacingAndGlyphs">30</text>
<text x="196.70" y="215.55" font-size="6.9" fill="#333" stroke="#333" stroke-width="0.2" text-anchor="middle" textLength="3.57" lengthAdjust="spacingAndGlyphs">5</text>
<text x="45.20" y="225.52" font-size="6.9" fill="#7f8c9a" stroke="#7f8c9a" stroke-width="0.08" text-anchor="end" textLength="33.02" lengthAdjust="spacingAndGlyphs">GIVe, no TL</text>
<text x="56.20" y="225.52" font-size="6.9" fill="#333" stroke="#333" stroke-width="0.2" text-anchor="middle" textLength="10.71" lengthAdjust="spacingAndGlyphs">183</text>
<text x="91.50" y="225.52" font-size="6.9" fill="#333" stroke="#333" stroke-width="0.2" text-anchor="middle" textLength="10.71" lengthAdjust="spacingAndGlyphs">181</text>
<text x="126.50" y="225.52" font-size="6.9" fill="#333" stroke="#333" stroke-width="0.2" text-anchor="middle" textLength="10.71" lengthAdjust="spacingAndGlyphs">174</text>
<text x="161.70" y="225.52" font-size="6.9" fill="#333" stroke="#333" stroke-width="0.2" text-anchor="middle" textLength="10.71" lengthAdjust="spacingAndGlyphs">108</text>
<text x="196.70" y="225.52" font-size="6.9" fill="#333" stroke="#333" stroke-width="0.2" text-anchor="middle" textLength="7.14" lengthAdjust="spacingAndGlyphs">40</text>
<text x="45.20" y="235.49" font-size="6.9" fill="#7f8c9a" stroke="#7f8c9a" stroke-width="0.08" text-anchor="end" textLength="24.39" lengthAdjust="spacingAndGlyphs">GIVe, TL</text>
<text x="56.20" y="235.49" font-size="6.9" fill="#333" stroke="#333" stroke-width="0.2" text-anchor="middle" textLength="7.14" lengthAdjust="spacingAndGlyphs">37</text>
<text x="91.50" y="235.49" font-size="6.9" fill="#333" stroke="#333" stroke-width="0.2" text-anchor="middle" textLength="7.14" lengthAdjust="spacingAndGlyphs">35</text>
<text x="126.50" y="235.49" font-size="6.9" fill="#333" stroke="#333" stroke-width="0.2" text-anchor="middle" textLength="7.14" lengthAdjust="spacingAndGlyphs">32</text>
<text x="161.70" y="235.49" font-size="6.9" fill="#333" stroke="#333" stroke-width="0.2" text-anchor="middle" textLength="7.14" lengthAdjust="spacingAndGlyphs">16</text>
<text x="196.70" y="235.49" font-size="6.9" fill="#333" stroke="#333" stroke-width="0.2" text-anchor="middle" textLength="3.57" lengthAdjust="spacingAndGlyphs">3</text>
<line x1="65.80" y1="243.30" x2="75.00" y2="243.30" stroke="#66707a" stroke-width="0.9" stroke-dasharray="1.1 0.7"/>
<text x="78.30" y="245.20" font-size="6.6" fill="#333" stroke="#333" stroke-width="0.2" textLength="66.76" lengthAdjust="spacingAndGlyphs"><tspan font-weight="bold" fill="#111" stroke="#111">GIV</tspan><tspan> without translocation</tspan></text>
<line x1="152.30" y1="243.30" x2="160.40" y2="243.30" stroke="#4c5660" stroke-width="1.3"/>
<text x="163.90" y="245.20" font-size="6.6" fill="#333" stroke="#333" stroke-width="0.2" textLength="73.32" lengthAdjust="spacingAndGlyphs"><tspan font-weight="bold" fill="#111" stroke="#111">GIV</tspan><tspan> with ≥1 translocation(s)</tspan></text>
<line x1="65.80" y1="252.60" x2="75.00" y2="252.60" stroke="#c8405e" stroke-width="0.9" stroke-dasharray="1.1 0.7"/>
<text x="78.30" y="254.50" font-size="6.6" fill="#333" stroke="#333" stroke-width="0.2" textLength="65.09" lengthAdjust="spacingAndGlyphs"><tspan font-weight="bold" fill="#111" stroke="#111">GV</tspan><tspan> without translocation</tspan></text>
<line x1="152.30" y1="252.60" x2="160.40" y2="252.60" stroke="#c02a50" stroke-width="1.3"/>
<text x="163.90" y="254.50" font-size="6.6" fill="#333" stroke="#333" stroke-width="0.2" textLength="71.66" lengthAdjust="spacingAndGlyphs"><tspan font-weight="bold" fill="#111" stroke="#111">GV</tspan><tspan> with ≥1 translocation(s)</tspan></text>
<line x1="65.80" y1="261.90" x2="75.00" y2="261.90" stroke="#6cb86a" stroke-width="0.9" stroke-dasharray="1.1 0.7"/>
<text x="78.30" y="263.80" font-size="6.6" fill="#333" stroke="#333" stroke-width="0.2" textLength="64.65" lengthAdjust="spacingAndGlyphs"><tspan font-weight="bold" fill="#111" stroke="#111">RV</tspan><tspan> without translocation</tspan></text>
<line x1="152.30" y1="261.90" x2="160.40" y2="261.90" stroke="#4caa48" stroke-width="1.3"/>
<text x="163.90" y="263.80" font-size="6.6" fill="#333" stroke="#333" stroke-width="0.2" textLength="71.22" lengthAdjust="spacingAndGlyphs"><tspan font-weight="bold" fill="#111" stroke="#111">RV</tspan><tspan> with ≥1 translocation(s)</tspan></text>
<line x1="65.80" y1="271.20" x2="75.00" y2="271.20" stroke="#4a6c9a" stroke-width="0.9" stroke-dasharray="1.1 0.7"/>
<text x="78.30" y="273.10" font-size="6.6" fill="#333" stroke="#333" stroke-width="0.2" textLength="66.09" lengthAdjust="spacingAndGlyphs"><tspan font-weight="bold" fill="#111" stroke="#111">CIT</tspan><tspan> without translocation</tspan></text>
<line x1="152.30" y1="271.20" x2="160.40" y2="271.20" stroke="#2a4d80" stroke-width="1.3"/>
<text x="163.90" y="273.10" font-size="6.6" fill="#333" stroke="#333" stroke-width="0.2" textLength="72.65" lengthAdjust="spacingAndGlyphs"><tspan font-weight="bold" fill="#111" stroke="#111">CIT</tspan><tspan> with ≥1 translocation(s)</tspan></text>
<text x="275.40" y="15.90" font-size="11.2" fill="#111" stroke="#111" stroke-width="0.35" font-weight="bold">B</text>
<text x="370.50" y="13.90" font-size="8.4" fill="#333" stroke="#333" stroke-width="0.2" textLength="91.20" lengthAdjust="spacingAndGlyphs">Pooled venetoclax arms</text>
<line x1="319.50" y1="23.00" x2="319.50" y2="132.30" stroke="#222" stroke-width="1.25"/>
<line x1="318.90" y1="131.70" x2="503.60" y2="131.70" stroke="#333" stroke-width="1.5"/>
<line x1="316.50" y1="131.70" x2="319.50" y2="131.70" stroke="#222" stroke-width="1.1"/>
<text x="313.80" y="133.80" font-size="6.7" fill="#444" stroke="#444" stroke-width="0.2" text-anchor="end" textLength="8.66" lengthAdjust="spacingAndGlyphs">0.0</text>
<line x1="316.50" y1="111.06" x2="319.50" y2="111.06" stroke="#222" stroke-width="1.1"/>
<text x="313.80" y="113.16" font-size="6.7" fill="#444" stroke="#444" stroke-width="0.2" text-anchor="end" textLength="8.66" lengthAdjust="spacingAndGlyphs">0.2</text>
<line x1="316.50" y1="90.42" x2="319.50" y2="90.42" stroke="#222" stroke-width="1.1"/>
<text x="313.80" y="92.52" font-size="6.7" fill="#444" stroke="#444" stroke-width="0.2" text-anchor="end" textLength="8.66" lengthAdjust="spacingAndGlyphs">0.4</text>
<line x1="316.50" y1="69.78" x2="319.50" y2="69.78" stroke="#222" stroke-width="1.1"/>
<text x="313.80" y="71.88" font-size="6.7" fill="#444" stroke="#444" stroke-width="0.2" text-anchor="end" textLength="8.66" lengthAdjust="spacingAndGlyphs">0.6</text>
<line x1="316.50" y1="49.14" x2="319.50" y2="49.14" stroke="#222" stroke-width="1.1"/>
<text x="313.80" y="51.24" font-size="6.7" fill="#444" stroke="#444" stroke-width="0.2" text-anchor="end" textLength="8.66" lengthAdjust="spacingAndGlyphs">0.8</text>
<line x1="316.50" y1="28.50" x2="319.50" y2="28.50" stroke="#222" stroke-width="1.1"/>
<text x="313.80" y="30.60" font-size="6.7" fill="#444" stroke="#444" stroke-width="0.2" text-anchor="end" textLength="8.66" lengthAdjust="spacingAndGlyphs">1.0</text>
<line x1="319.50" y1="131.70" x2="319.50" y2="134.70" stroke="#222" stroke-width="1.1"/>
<text x="319.50" y="142.50" font-size="6.7" fill="#444" stroke="#444" stroke-width="0.2" text-anchor="middle" textLength="3.20" lengthAdjust="spacingAndGlyphs">0</text>
<line x1="353.35" y1="131.70" x2="353.35" y2="134.70" stroke="#222" stroke-width="1.1"/>
<text x="353.35" y="142.50" font-size="6.7" fill="#444" stroke="#444" stroke-width="0.2" text-anchor="middle" textLength="6.41" lengthAdjust="spacingAndGlyphs">12</text>
<line x1="387.20" y1="131.70" x2="387.20" y2="134.70" stroke="#222" stroke-width="1.1"/>
<text x="387.20" y="142.50" font-size="6.7" fill="#444" stroke="#444" stroke-width="0.2" text-anchor="middle" textLength="6.41" lengthAdjust="spacingAndGlyphs">24</text>
<line x1="421.05" y1="131.70" x2="421.05" y2="134.70" stroke="#222" stroke-width="1.1"/>
<text x="421.05" y="142.50" font-size="6.7" fill="#444" stroke="#444" stroke-width="0.2" text-anchor="middle" textLength="6.41" lengthAdjust="spacingAndGlyphs">36</text>
<line x1="454.90" y1="131.70" x2="454.90" y2="134.70" stroke="#222" stroke-width="1.1"/>
<text x="454.90" y="142.50" font-size="6.7" fill="#444" stroke="#444" stroke-width="0.2" text-anchor="middle" textLength="6.41" lengthAdjust="spacingAndGlyphs">48</text>
<line x1="488.75" y1="131.70" x2="488.75" y2="134.70" stroke="#222" stroke-width="1.1"/>
<text x="488.75" y="142.50" font-size="6.7" fill="#444" stroke="#444" stroke-width="0.2" text-anchor="middle" textLength="6.41" lengthAdjust="spacingAndGlyphs">60</text>
<text transform="translate(299.20,77.30) rotate(-90)" font-size="8.4" fill="#444" stroke="#444" stroke-width="0.15" text-anchor="middle" textLength="39" lengthAdjust="spacingAndGlyphs">Cum survival</text>
<path d="M319.50 28.80H321.69V29.11H323.88V29.43H326.06V29.74H328.25V30.05H330.44V30.36H332.62V30.68H334.81V30.99H337.00V31.30H339.17V31.67H341.33V32.03H343.50V32.40H345.67V32.77H347.83V33.13H350.00V33.50H352.17V33.87H354.33V34.23H356.50V34.60H358.63V34.92H360.77V35.24H362.90V35.57H365.03V35.89H367.17V36.21H369.30V36.53H371.43V36.86H373.57V37.18H375.70V37.50H377.84V37.71H379.99V37.92H382.13V38.13H384.28V38.34H386.42V38.56H388.57V38.77H390.71V38.98H392.86V39.19H395.00V39.40H397.53V39.93H400.07V40.47H402.60V41.00H405.07V41.93H407.53V42.87H410.00V43.80H412.23V44.11H414.46V44.43H416.69V44.74H418.91V45.06H421.14V45.37H423.37V45.69H425.60V46.00H427.68V46.26H429.76V46.52H431.84V46.78H433.92V47.04H436.00V47.30H436.00" fill="none" stroke="#58a84f" stroke-width="1.4"/>
<line x1="340.00" y1="30.81" x2="340.00" y2="32.81" stroke="#3f7f3a" stroke-width="1.0"/>
<line x1="344.50" y1="31.57" x2="344.50" y2="33.57" stroke="#3f7f3a" stroke-width="1.0"/>
<line x1="349.00" y1="32.33" x2="349.00" y2="34.33" stroke="#3f7f3a" stroke-width="1.0"/>
<line x1="353.50" y1="33.09" x2="353.50" y2="35.09" stroke="#3f7f3a" stroke-width="1.0"/>
<line x1="358.00" y1="33.83" x2="358.00" y2="35.83" stroke="#3f7f3a" stroke-width="1.0"/>
<line x1="362.50" y1="34.51" x2="362.50" y2="36.51" stroke="#3f7f3a" stroke-width="1.0"/>
<line x1="367.00" y1="35.19" x2="367.00" y2="37.19" stroke="#3f7f3a" stroke-width="1.0"/>
<line x1="371.50" y1="35.87" x2="371.50" y2="37.87" stroke="#3f7f3a" stroke-width="1.0"/>
<line x1="376.00" y1="36.53" x2="376.00" y2="38.53" stroke="#3f7f3a" stroke-width="1.0"/>
<line x1="380.50" y1="36.97" x2="380.50" y2="38.97" stroke="#3f7f3a" stroke-width="1.0"/>
<line x1="385.00" y1="37.42" x2="385.00" y2="39.42" stroke="#3f7f3a" stroke-width="1.0"/>
<line x1="389.50" y1="37.86" x2="389.50" y2="39.86" stroke="#3f7f3a" stroke-width="1.0"/>
<line x1="394.00" y1="38.30" x2="394.00" y2="40.30" stroke="#3f7f3a" stroke-width="1.0"/>
<line x1="398.50" y1="39.14" x2="398.50" y2="41.14" stroke="#3f7f3a" stroke-width="1.0"/>
<line x1="403.00" y1="40.15" x2="403.00" y2="42.15" stroke="#3f7f3a" stroke-width="1.0"/>
<line x1="407.50" y1="41.85" x2="407.50" y2="43.85" stroke="#3f7f3a" stroke-width="1.0"/>
<line x1="412.00" y1="43.08" x2="412.00" y2="45.08" stroke="#3f7f3a" stroke-width="1.0"/>
<line x1="416.50" y1="43.72" x2="416.50" y2="45.72" stroke="#3f7f3a" stroke-width="1.0"/>
<line x1="421.00" y1="44.35" x2="421.00" y2="46.35" stroke="#3f7f3a" stroke-width="1.0"/>
<line x1="425.50" y1="44.99" x2="425.50" y2="46.99" stroke="#3f7f3a" stroke-width="1.0"/>
<line x1="430.00" y1="45.55" x2="430.00" y2="47.55" stroke="#3f7f3a" stroke-width="1.0"/>
<line x1="434.50" y1="46.11" x2="434.50" y2="48.11" stroke="#3f7f3a" stroke-width="1.0"/>
<line x1="452.00" y1="57.60" x2="452.00" y2="59.60" stroke="#3f7f3a" stroke-width="1.0"/>
<line x1="454.60" y1="57.60" x2="454.60" y2="59.60" stroke="#3f7f3a" stroke-width="1.0"/>
<line x1="457.20" y1="57.60" x2="457.20" y2="59.60" stroke="#3f7f3a" stroke-width="1.0"/>
<line x1="459.80" y1="57.60" x2="459.80" y2="59.60" stroke="#3f7f3a" stroke-width="1.0"/>
<line x1="462.40" y1="57.60" x2="462.40" y2="59.60" stroke="#3f7f3a" stroke-width="1.0"/>
<line x1="465.00" y1="57.60" x2="465.00" y2="59.60" stroke="#3f7f3a" stroke-width="1.0"/>
<line x1="472.00" y1="94.40" x2="472.00" y2="96.40" stroke="#3f7f3a" stroke-width="1.0"/>
<line x1="475.00" y1="94.40" x2="475.00" y2="96.40" stroke="#3f7f3a" stroke-width="1.0"/>
<line x1="478.00" y1="94.40" x2="478.00" y2="96.40" stroke="#3f7f3a" stroke-width="1.0"/>
<line x1="481.00" y1="94.40" x2="481.00" y2="96.40" stroke="#3f7f3a" stroke-width="1.0"/>
<path d="M436.00 47.30H437.70V49.60H443.70V52.50H450.70V58.60H467.10V76.70H469.70V95.40H482.70" fill="none" stroke="#58a84f" stroke-width="1.2"/>
<path d="M319.50 28.80H325.70V30.70H331.50V32.70H343.00V34.60H356.50V38.40H364.00V42.80H373.80V44.80H380.50V48.00H383.40V51.50H398.80V53.20H405.00V57.00H410.00V60.80H414.00V64.00H418.00V67.50H422.00V70.50H427.30V74.70H457.60" fill="none" stroke="#bc2b4d" stroke-width="1.3"/>
<line x1="430.00" y1="73.70" x2="430.00" y2="75.70" stroke="#8c1c38" stroke-width="1.0"/>
<line x1="433.20" y1="73.70" x2="433.20" y2="75.70" stroke="#8c1c38" stroke-width="1.0"/>
<line x1="436.40" y1="73.70" x2="436.40" y2="75.70" stroke="#8c1c38" stroke-width="1.0"/>
<line x1="439.60" y1="73.70" x2="439.60" y2="75.70" stroke="#8c1c38" stroke-width="1.0"/>
<line x1="442.80" y1="73.70" x2="442.80" y2="75.70" stroke="#8c1c38" stroke-width="1.0"/>
<line x1="446.00" y1="73.70" x2="446.00" y2="75.70" stroke="#8c1c38" stroke-width="1.0"/>
<line x1="449.20" y1="73.70" x2="449.20" y2="75.70" stroke="#8c1c38" stroke-width="1.0"/>
<line x1="452.40" y1="73.70" x2="452.40" y2="75.70" stroke="#8c1c38" stroke-width="1.0"/>
<line x1="455.60" y1="73.70" x2="455.60" y2="75.70" stroke="#8c1c38" stroke-width="1.0"/>
<path d="M319.50 28.80H321.69V28.90H323.88V29.00H326.06V29.10H328.25V29.20H330.44V29.30H332.62V29.40H334.81V29.50H337.00V29.60H339.17V29.72H341.33V29.84H343.50V29.97H345.67V30.09H347.83V30.21H350.00V30.33H352.17V30.46H354.33V30.58H356.50V30.70H358.63V30.84H360.77V30.99H362.90V31.13H365.03V31.28H367.17V31.42H369.30V31.57H371.43V31.71H373.57V31.86H375.70V32.00H377.84V32.29H379.99V32.58H382.13V32.87H384.28V33.16H386.42V33.44H388.57V33.73H390.71V34.02H392.86V34.31H395.00V34.60H397.14V35.06H399.29V35.51H401.43V35.97H403.57V36.43H405.71V36.89H407.86V37.34H410.00V37.80H412.16V38.01H414.32V38.22H416.49V38.44H418.65V38.65H420.81V38.86H422.98V39.08H425.14V39.29H427.30V39.50H429.48V39.92H431.65V40.35H433.82V40.78H436.00V41.20H438.15V41.85H440.30V42.50H442.45V43.15H444.60V43.80H446.90V44.67H449.20V45.53H451.50V46.40H454.10V48.15H456.70V49.90H459.35V51.20H462.00V52.50H464.10V53.35H466.20V54.20H467.00V58.60H480.10" fill="none" stroke="#24507f" stroke-width="1.5"/>
<path d="M480.10 58.60H480.10V65.80H487.00" fill="none" stroke="#1b3d66" stroke-width="1.7"/>
<line x1="345.00" y1="29.05" x2="345.00" y2="31.05" stroke="#1b3d66" stroke-width="1.0"/>
<line x1="350.00" y1="29.33" x2="350.00" y2="31.33" stroke="#1b3d66" stroke-width="1.0"/>
<line x1="355.00" y1="29.62" x2="355.00" y2="31.62" stroke="#1b3d66" stroke-width="1.0"/>
<line x1="360.00" y1="29.94" x2="360.00" y2="31.94" stroke="#1b3d66" stroke-width="1.0"/>
<line x1="365.00" y1="30.28" x2="365.00" y2="32.28" stroke="#1b3d66" stroke-width="1.0"/>
<line x1="370.00" y1="30.61" x2="370.00" y2="32.61" stroke="#1b3d66" stroke-width="1.0"/>
<line x1="375.00" y1="30.95" x2="375.00" y2="32.95" stroke="#1b3d66" stroke-width="1.0"/>
<line x1="380.00" y1="31.58" x2="380.00" y2="33.58" stroke="#1b3d66" stroke-width="1.0"/>
<line x1="382.00" y1="31.70" x2="382.00" y2="34.00" stroke="#1b3d66" stroke-width="1.1"/>
<line x1="384.40" y1="32.02" x2="384.40" y2="34.32" stroke="#1b3d66" stroke-width="1.1"/>
<line x1="386.80" y1="32.35" x2="386.80" y2="34.65" stroke="#1b3d66" stroke-width="1.1"/>
<line x1="389.20" y1="32.67" x2="389.20" y2="34.97" stroke="#1b3d66" stroke-width="1.1"/>
<line x1="391.60" y1="32.99" x2="391.60" y2="35.29" stroke="#1b3d66" stroke-width="1.1"/>
<line x1="394.00" y1="33.32" x2="394.00" y2="35.62" stroke="#1b3d66" stroke-width="1.1"/>
<line x1="396.40" y1="33.75" x2="396.40" y2="36.05" stroke="#1b3d66" stroke-width="1.1"/>
<line x1="398.80" y1="34.26" x2="398.80" y2="36.56" stroke="#1b3d66" stroke-width="1.1"/>
<line x1="401.20" y1="34.77" x2="401.20" y2="37.07" stroke="#1b3d66" stroke-width="1.1"/>
<line x1="403.60" y1="35.28" x2="403.60" y2="37.58" stroke="#1b3d66" stroke-width="1.1"/>
<line x1="406.00" y1="35.80" x2="406.00" y2="38.10" stroke="#1b3d66" stroke-width="1.1"/>
<line x1="408.40" y1="36.31" x2="408.40" y2="38.61" stroke="#1b3d66" stroke-width="1.1"/>
<line x1="410.80" y1="36.73" x2="410.80" y2="39.03" stroke="#1b3d66" stroke-width="1.1"/>
<line x1="413.20" y1="36.96" x2="413.20" y2="39.26" stroke="#1b3d66" stroke-width="1.1"/>
<line x1="415.60" y1="37.20" x2="415.60" y2="39.50" stroke="#1b3d66" stroke-width="1.1"/>
<line x1="418.00" y1="37.44" x2="418.00" y2="39.74" stroke="#1b3d66" stroke-width="1.1"/>
<line x1="420.40" y1="37.67" x2="420.40" y2="39.97" stroke="#1b3d66" stroke-width="1.1"/>
<line x1="422.80" y1="37.91" x2="422.80" y2="40.21" stroke="#1b3d66" stroke-width="1.1"/>
<line x1="425.20" y1="38.14" x2="425.20" y2="40.44" stroke="#1b3d66" stroke-width="1.1"/>
<line x1="427.60" y1="38.41" x2="427.60" y2="40.71" stroke="#1b3d66" stroke-width="1.1"/>
<line x1="430.00" y1="38.88" x2="430.00" y2="41.18" stroke="#1b3d66" stroke-width="1.1"/>
<line x1="432.40" y1="39.35" x2="432.40" y2="41.65" stroke="#1b3d66" stroke-width="1.1"/>
<line x1="434.80" y1="39.82" x2="434.80" y2="42.12" stroke="#1b3d66" stroke-width="1.1"/>
<line x1="437.20" y1="40.41" x2="437.20" y2="42.71" stroke="#1b3d66" stroke-width="1.1"/>
<line x1="439.60" y1="41.14" x2="439.60" y2="43.44" stroke="#1b3d66" stroke-width="1.1"/>
<line x1="442.00" y1="41.86" x2="442.00" y2="44.16" stroke="#1b3d66" stroke-width="1.1"/>
<line x1="444.40" y1="42.59" x2="444.40" y2="44.89" stroke="#1b3d66" stroke-width="1.1"/>
<line x1="446.80" y1="43.48" x2="446.80" y2="45.78" stroke="#1b3d66" stroke-width="1.1"/>
<line x1="449.20" y1="44.38" x2="449.20" y2="46.68" stroke="#1b3d66" stroke-width="1.1"/>
<line x1="451.60" y1="45.32" x2="451.60" y2="47.62" stroke="#1b3d66" stroke-width="1.1"/>
<line x1="454.00" y1="46.93" x2="454.00" y2="49.23" stroke="#1b3d66" stroke-width="1.1"/>
<line x1="456.40" y1="48.55" x2="456.40" y2="50.85" stroke="#1b3d66" stroke-width="1.1"/>
<line x1="458.80" y1="49.78" x2="458.80" y2="52.08" stroke="#1b3d66" stroke-width="1.1"/>
<line x1="461.20" y1="50.96" x2="461.20" y2="53.26" stroke="#1b3d66" stroke-width="1.1"/>
<line x1="463.60" y1="52.00" x2="463.60" y2="54.30" stroke="#1b3d66" stroke-width="1.1"/>
<line x1="466.00" y1="52.97" x2="466.00" y2="55.27" stroke="#1b3d66" stroke-width="1.1"/>
<line x1="469.00" y1="57.50" x2="469.00" y2="59.70" stroke="#1b3d66" stroke-width="1.1"/>
<line x1="471.40" y1="57.50" x2="471.40" y2="59.70" stroke="#1b3d66" stroke-width="1.1"/>
<line x1="473.80" y1="57.50" x2="473.80" y2="59.70" stroke="#1b3d66" stroke-width="1.1"/>
<line x1="476.20" y1="57.50" x2="476.20" y2="59.70" stroke="#1b3d66" stroke-width="1.1"/>
<line x1="478.60" y1="57.50" x2="478.60" y2="59.70" stroke="#1b3d66" stroke-width="1.1"/>
<line x1="482.00" y1="64.70" x2="482.00" y2="66.90" stroke="#1b3d66" stroke-width="1.1"/>
<line x1="484.50" y1="64.70" x2="484.50" y2="66.90" stroke="#1b3d66" stroke-width="1.1"/>
<line x1="487.00" y1="64.70" x2="487.00" y2="66.90" stroke="#1b3d66" stroke-width="1.1"/>
<text x="324.80" y="111.00" font-size="7.2" fill="#111" stroke="#111" stroke-width="0.2" textLength="188.20" lengthAdjust="spacingAndGlyphs"><tspan fill="#4a9e3c" font-weight="bold" stroke="#4a9e3c">Only balanced TL</tspan><tspan fill="#555" stroke="#555"> vs </tspan><tspan fill="#234a82" font-weight="bold" stroke="#234a82">no TL:</tspan><tspan font-weight="bold"> HR 1.66</tspan><tspan fill="#333" stroke="#333">, 95% CI 1.04-2.65, </tspan><tspan font-weight="bold" font-style="italic">P</tspan><tspan font-weight="bold"> = </tspan><tspan font-weight="bold" font-style="italic">.035</tspan></text>
<text x="324.80" y="118.40" font-size="7.2" fill="#111" stroke="#111" stroke-width="0.2" textLength="141.50" lengthAdjust="spacingAndGlyphs"><tspan fill="#b5193f" font-weight="bold" stroke="#b5193f">Unbalanced +/– balanced TL</tspan><tspan fill="#555" stroke="#555"> vs </tspan><tspan fill="#234a82" font-weight="bold" stroke="#234a82">no TL:</tspan><tspan font-weight="bold"> HR 3.83</tspan><tspan>,</tspan></text>
<text x="324.80" y="126.00" font-size="7.2" fill="#111" stroke="#111" stroke-width="0.2" textLength="78.00" lengthAdjust="spacingAndGlyphs"><tspan fill="#333" stroke="#333">95% CI 2.30-6.39, </tspan><tspan font-weight="bold" font-style="italic">P</tspan><tspan font-weight="bold"> &lt; </tspan><tspan font-weight="bold" font-style="italic">.001</tspan></text>
<text x="373.30" y="155.70" font-size="8.6" fill="#222" stroke="#222" stroke-width="0.2" textLength="86.40" lengthAdjust="spacingAndGlyphs">Time to event [PFS] (months)</text>
<text x="292.30" y="155.60" font-size="7.0" fill="#333" stroke="#333" stroke-width="0.2" textLength="41.70" lengthAdjust="spacingAndGlyphs">Patients at risk</text>
<text x="308.00" y="165.80" font-size="6.9" fill="#3d6298" stroke="#3d6298" stroke-width="0.08" text-anchor="end" textLength="16.80" lengthAdjust="spacingAndGlyphs">No TL</text>
<text x="319.50" y="165.80" font-size="6.9" fill="#333" stroke="#333" stroke-width="0.2" text-anchor="middle" textLength="10.71" lengthAdjust="spacingAndGlyphs">505</text>
<text x="353.35" y="165.80" font-size="6.9" fill="#333" stroke="#333" stroke-width="0.2" text-anchor="middle" textLength="10.71" lengthAdjust="spacingAndGlyphs">490</text>
<text x="387.20" y="165.80" font-size="6.9" fill="#333" stroke="#333" stroke-width="0.2" text-anchor="middle" textLength="10.71" lengthAdjust="spacingAndGlyphs">470</text>
<text x="421.05" y="165.80" font-size="6.9" fill="#333" stroke="#333" stroke-width="0.2" text-anchor="middle" textLength="10.71" lengthAdjust="spacingAndGlyphs">280</text>
<text x="454.90" y="165.80" font-size="6.9" fill="#333" stroke="#333" stroke-width="0.2" text-anchor="middle" textLength="10.71" lengthAdjust="spacingAndGlyphs">102</text>
<text x="308.00" y="176.20" font-size="6.9" fill="#5cb052" stroke="#5cb052" stroke-width="0.08" text-anchor="end" textLength="12.77" lengthAdjust="spacingAndGlyphs">Only</text>
<text x="308.00" y="183.70" font-size="6.9" fill="#5cb052" stroke="#5cb052" stroke-width="0.08" text-anchor="end" textLength="34.06" lengthAdjust="spacingAndGlyphs">balanced TL</text>
<text x="319.50" y="179.70" font-size="6.9" fill="#333" stroke="#333" stroke-width="0.2" text-anchor="middle" textLength="10.23" lengthAdjust="spacingAndGlyphs">110</text>
<text x="353.35" y="179.70" font-size="6.9" fill="#333" stroke="#333" stroke-width="0.2" text-anchor="middle" textLength="10.71" lengthAdjust="spacingAndGlyphs">105</text>
<text x="387.20" y="179.70" font-size="6.9" fill="#333" stroke="#333" stroke-width="0.2" text-anchor="middle" textLength="10.71" lengthAdjust="spacingAndGlyphs">100</text>
<text x="421.05" y="179.70" font-size="6.9" fill="#333" stroke="#333" stroke-width="0.2" text-anchor="middle" textLength="7.14" lengthAdjust="spacingAndGlyphs">59</text>
<text x="454.90" y="179.70" font-size="6.9" fill="#333" stroke="#333" stroke-width="0.2" text-anchor="middle" textLength="7.14" lengthAdjust="spacingAndGlyphs">12</text>
<text x="308.00" y="193.30" font-size="6.9" fill="#cf4a6a" stroke="#cf4a6a" stroke-width="0.08" text-anchor="end" textLength="45.50" lengthAdjust="spacingAndGlyphs">Unbalanced +/–</text>
<text x="308.00" y="200.60" font-size="6.9" fill="#cf4a6a" stroke="#cf4a6a" stroke-width="0.08" text-anchor="end" textLength="34.06" lengthAdjust="spacingAndGlyphs">balanced TL</text>
<text x="319.50" y="197.20" font-size="6.9" fill="#333" stroke="#333" stroke-width="0.2" text-anchor="middle" textLength="7.14" lengthAdjust="spacingAndGlyphs">50</text>
<text x="353.35" y="197.20" font-size="6.9" fill="#333" stroke="#333" stroke-width="0.2" text-anchor="middle" textLength="7.14" lengthAdjust="spacingAndGlyphs">47</text>
<text x="387.20" y="197.20" font-size="6.9" fill="#333" stroke="#333" stroke-width="0.2" text-anchor="middle" textLength="7.14" lengthAdjust="spacingAndGlyphs">37</text>
<text x="421.05" y="197.20" font-size="6.9" fill="#333" stroke="#333" stroke-width="0.2" text-anchor="middle" textLength="7.14" lengthAdjust="spacingAndGlyphs">20</text>
<text x="454.90" y="197.20" font-size="6.9" fill="#333" stroke="#333" stroke-width="0.2" text-anchor="middle" textLength="3.57" lengthAdjust="spacingAndGlyphs">1</text>
<line x1="340.80" y1="209.00" x2="350.20" y2="209.00" stroke="#3f6a9c" stroke-width="1.2"/>
<text x="352.90" y="211.20" font-size="6.5" fill="#444" stroke="#444" stroke-width="0.2" textLength="42.22" lengthAdjust="spacingAndGlyphs">no translocation</text>
<line x1="340.80" y1="218.10" x2="350.20" y2="218.10" stroke="#6cb866" stroke-width="1.2"/>
<text x="352.90" y="220.30" font-size="6.5" fill="#444" stroke="#444" stroke-width="0.2" textLength="75.46" lengthAdjust="spacingAndGlyphs">only balanced translocations</text>
<line x1="340.80" y1="227.20" x2="350.20" y2="227.20" stroke="#c44a62" stroke-width="1.2"/>
<text x="352.90" y="229.40" font-size="6.5" fill="#444" stroke="#444" stroke-width="0.2" textLength="128.31" lengthAdjust="spacingAndGlyphs">unbalanced with/without balanced translocations</text>
<text x="6.60" y="299.80" font-size="11.6" fill="#111" stroke="#111" stroke-width="0.35" font-weight="bold">C</text>
<text x="105.60" y="297.10" font-size="8.4" fill="#333" stroke="#333" stroke-width="0.2" textLength="91.60" lengthAdjust="spacingAndGlyphs">Pooled venetoclax arms</text>
<line x1="56.30" y1="305.00" x2="56.30" y2="415.20" stroke="#222" stroke-width="1.25"/>
<line x1="55.70" y1="414.60" x2="246.60" y2="414.60" stroke="#333" stroke-width="1.5"/>
<line x1="53.30" y1="414.60" x2="56.30" y2="414.60" stroke="#222" stroke-width="1.1"/>
<text x="50.10" y="416.70" font-size="6.7" fill="#444" stroke="#444" stroke-width="0.2" text-anchor="end" textLength="8.66" lengthAdjust="spacingAndGlyphs">0.0</text>
<line x1="53.30" y1="393.84" x2="56.30" y2="393.84" stroke="#222" stroke-width="1.1"/>
<text x="50.10" y="395.94" font-size="6.7" fill="#444" stroke="#444" stroke-width="0.2" text-anchor="end" textLength="8.66" lengthAdjust="spacingAndGlyphs">0.2</text>
<line x1="53.30" y1="373.08" x2="56.30" y2="373.08" stroke="#222" stroke-width="1.1"/>
<text x="50.10" y="375.18" font-size="6.7" fill="#444" stroke="#444" stroke-width="0.2" text-anchor="end" textLength="8.66" lengthAdjust="spacingAndGlyphs">0.4</text>
<line x1="53.30" y1="352.32" x2="56.30" y2="352.32" stroke="#222" stroke-width="1.1"/>
<text x="50.10" y="354.42" font-size="6.7" fill="#444" stroke="#444" stroke-width="0.2" text-anchor="end" textLength="8.66" lengthAdjust="spacingAndGlyphs">0.6</text>
<line x1="53.30" y1="331.56" x2="56.30" y2="331.56" stroke="#222" stroke-width="1.1"/>
<text x="50.10" y="333.66" font-size="6.7" fill="#444" stroke="#444" stroke-width="0.2" text-anchor="end" textLength="8.66" lengthAdjust="spacingAndGlyphs">0.8</text>
<line x1="53.30" y1="310.80" x2="56.30" y2="310.80" stroke="#222" stroke-width="1.1"/>
<text x="50.10" y="312.90" font-size="6.7" fill="#444" stroke="#444" stroke-width="0.2" text-anchor="end" textLength="8.66" lengthAdjust="spacingAndGlyphs">1.0</text>
<line x1="56.30" y1="414.60" x2="56.30" y2="417.60" stroke="#222" stroke-width="1.1"/>
<text x="56.30" y="426.30" font-size="6.7" fill="#444" stroke="#444" stroke-width="0.2" text-anchor="middle" textLength="3.20" lengthAdjust="spacingAndGlyphs">0</text>
<line x1="90.36" y1="414.60" x2="90.36" y2="417.60" stroke="#222" stroke-width="1.1"/>
<text x="90.36" y="426.30" font-size="6.7" fill="#444" stroke="#444" stroke-width="0.2" text-anchor="middle" textLength="6.41" lengthAdjust="spacingAndGlyphs">12</text>
<line x1="124.42" y1="414.60" x2="124.42" y2="417.60" stroke="#222" stroke-width="1.1"/>
<text x="124.42" y="426.30" font-size="6.7" fill="#444" stroke="#444" stroke-width="0.2" text-anchor="middle" textLength="6.41" lengthAdjust="spacingAndGlyphs">24</text>
<line x1="158.48" y1="414.60" x2="158.48" y2="417.60" stroke="#222" stroke-width="1.1"/>
<text x="158.48" y="426.30" font-size="6.7" fill="#444" stroke="#444" stroke-width="0.2" text-anchor="middle" textLength="6.41" lengthAdjust="spacingAndGlyphs">36</text>
<line x1="192.54" y1="414.60" x2="192.54" y2="417.60" stroke="#222" stroke-width="1.1"/>
<text x="192.54" y="426.30" font-size="6.7" fill="#444" stroke="#444" stroke-width="0.2" text-anchor="middle" textLength="6.41" lengthAdjust="spacingAndGlyphs">48</text>
<line x1="226.60" y1="414.60" x2="226.60" y2="417.60" stroke="#222" stroke-width="1.1"/>
<text x="226.60" y="426.30" font-size="6.7" fill="#444" stroke="#444" stroke-width="0.2" text-anchor="middle" textLength="6.41" lengthAdjust="spacingAndGlyphs">60</text>
<text transform="translate(37.50,359.90) rotate(-90)" font-size="8.4" fill="#444" stroke="#444" stroke-width="0.15" text-anchor="middle" textLength="38.8" lengthAdjust="spacingAndGlyphs">Cum survival</text>
<path d="M56.30 310.80H73.30V312.70H126.20V315.70H180.50V322.30H191.70V329.60H222.90" fill="none" stroke="#bc2b4d" stroke-width="1.3"/>
<line x1="78.00" y1="311.70" x2="78.00" y2="313.70" stroke="#8c1c38" stroke-width="1.0"/>
<line x1="83.50" y1="311.70" x2="83.50" y2="313.70" stroke="#8c1c38" stroke-width="1.0"/>
<line x1="89.00" y1="311.70" x2="89.00" y2="313.70" stroke="#8c1c38" stroke-width="1.0"/>
<line x1="94.50" y1="311.70" x2="94.50" y2="313.70" stroke="#8c1c38" stroke-width="1.0"/>
<line x1="100.00" y1="311.70" x2="100.00" y2="313.70" stroke="#8c1c38" stroke-width="1.0"/>
<line x1="105.50" y1="311.70" x2="105.50" y2="313.70" stroke="#8c1c38" stroke-width="1.0"/>
<line x1="111.00" y1="311.70" x2="111.00" y2="313.70" stroke="#8c1c38" stroke-width="1.0"/>
<line x1="116.50" y1="311.70" x2="116.50" y2="313.70" stroke="#8c1c38" stroke-width="1.0"/>
<line x1="122.00" y1="311.70" x2="122.00" y2="313.70" stroke="#8c1c38" stroke-width="1.0"/>
<line x1="127.50" y1="314.70" x2="127.50" y2="316.70" stroke="#8c1c38" stroke-width="1.0"/>
<line x1="133.00" y1="314.70" x2="133.00" y2="316.70" stroke="#8c1c38" stroke-width="1.0"/>
<line x1="138.50" y1="314.70" x2="138.50" y2="316.70" stroke="#8c1c38" stroke-width="1.0"/>
<line x1="144.00" y1="314.70" x2="144.00" y2="316.70" stroke="#8c1c38" stroke-width="1.0"/>
<line x1="149.50" y1="314.70" x2="149.50" y2="316.70" stroke="#8c1c38" stroke-width="1.0"/>
<line x1="155.00" y1="314.70" x2="155.00" y2="316.70" stroke="#8c1c38" stroke-width="1.0"/>
<line x1="160.50" y1="314.70" x2="160.50" y2="316.70" stroke="#8c1c38" stroke-width="1.0"/>
<line x1="166.00" y1="314.70" x2="166.00" y2="316.70" stroke="#8c1c38" stroke-width="1.0"/>
<line x1="171.50" y1="314.70" x2="171.50" y2="316.70" stroke="#8c1c38" stroke-width="1.0"/>
<line x1="177.00" y1="314.70" x2="177.00" y2="316.70" stroke="#8c1c38" stroke-width="1.0"/>
<line x1="195.00" y1="328.60" x2="195.00" y2="330.60" stroke="#8c1c38" stroke-width="1.0"/>
<line x1="198.50" y1="328.60" x2="198.50" y2="330.60" stroke="#8c1c38" stroke-width="1.0"/>
<line x1="202.00" y1="328.60" x2="202.00" y2="330.60" stroke="#8c1c38" stroke-width="1.0"/>
<line x1="205.50" y1="328.60" x2="205.50" y2="330.60" stroke="#8c1c38" stroke-width="1.0"/>
<line x1="209.00" y1="328.60" x2="209.00" y2="330.60" stroke="#8c1c38" stroke-width="1.0"/>
<line x1="212.50" y1="328.60" x2="212.50" y2="330.60" stroke="#8c1c38" stroke-width="1.0"/>
<line x1="216.00" y1="328.60" x2="216.00" y2="330.60" stroke="#8c1c38" stroke-width="1.0"/>
<line x1="219.50" y1="328.60" x2="219.50" y2="330.60" stroke="#8c1c38" stroke-width="1.0"/>
<path d="M56.30 310.80H66.50V315.60H92.50V318.50H101.00V320.40H110.80V322.30H118.50V326.20H126.20V328.00H135.80V330.00H143.50V335.80H149.20V339.60H155.40V342.70H158.80V345.70H164.00V348.30H180.50V352.60H187.40V360.00H205.20V414.60H205.20" fill="none" stroke="#4f5760" stroke-width="1.2"/>
<line x1="166.00" y1="347.30" x2="166.00" y2="349.30" stroke="#3a3f45" stroke-width="1.1"/>
<line x1="169.20" y1="347.30" x2="169.20" y2="349.30" stroke="#3a3f45" stroke-width="1.1"/>
<line x1="172.40" y1="347.30" x2="172.40" y2="349.30" stroke="#3a3f45" stroke-width="1.1"/>
<line x1="175.60" y1="347.30" x2="175.60" y2="349.30" stroke="#3a3f45" stroke-width="1.1"/>
<line x1="178.80" y1="347.30" x2="178.80" y2="349.30" stroke="#3a3f45" stroke-width="1.1"/>
<line x1="190.00" y1="359.00" x2="190.00" y2="361.00" stroke="#3a3f45" stroke-width="1.1"/>
<line x1="193.50" y1="359.00" x2="193.50" y2="361.00" stroke="#3a3f45" stroke-width="1.1"/>
<line x1="197.00" y1="359.00" x2="197.00" y2="361.00" stroke="#3a3f45" stroke-width="1.1"/>
<line x1="200.50" y1="359.00" x2="200.50" y2="361.00" stroke="#3a3f45" stroke-width="1.1"/>
<line x1="204.00" y1="359.00" x2="204.00" y2="361.00" stroke="#3a3f45" stroke-width="1.1"/>
<line x1="95.00" y1="317.50" x2="95.00" y2="319.50" stroke="#3a3f45" stroke-width="1.0"/>
<line x1="101.50" y1="319.40" x2="101.50" y2="321.40" stroke="#3a3f45" stroke-width="1.0"/>
<line x1="108.00" y1="319.40" x2="108.00" y2="321.40" stroke="#3a3f45" stroke-width="1.0"/>
<line x1="114.50" y1="321.30" x2="114.50" y2="323.30" stroke="#3a3f45" stroke-width="1.0"/>
<line x1="121.00" y1="325.20" x2="121.00" y2="327.20" stroke="#3a3f45" stroke-width="1.0"/>
<line x1="127.50" y1="327.00" x2="127.50" y2="329.00" stroke="#3a3f45" stroke-width="1.0"/>
<line x1="134.00" y1="327.00" x2="134.00" y2="329.00" stroke="#3a3f45" stroke-width="1.0"/>
<line x1="140.50" y1="329.00" x2="140.50" y2="331.00" stroke="#3a3f45" stroke-width="1.0"/>
<line x1="147.00" y1="334.80" x2="147.00" y2="336.80" stroke="#3a3f45" stroke-width="1.0"/>
<line x1="153.50" y1="338.60" x2="153.50" y2="340.60" stroke="#3a3f45" stroke-width="1.0"/>
<line x1="160.00" y1="344.70" x2="160.00" y2="346.70" stroke="#3a3f45" stroke-width="1.0"/>
<path d="M56.30 310.80H58.54V310.91H60.77V311.02H63.01V311.14H65.25V311.25H67.49V311.36H69.72V311.48H71.96V311.59H74.20V311.70H76.34V311.84H78.49V311.99H80.63V312.13H82.78V312.28H84.92V312.42H87.07V312.57H89.21V312.71H91.36V312.86H93.50V313.00H95.63V313.18H97.77V313.36H99.90V313.53H102.03V313.71H104.17V313.89H106.30V314.07H108.43V314.24H110.57V314.42H112.70V314.60H114.95V314.92H117.20V315.23H119.45V315.55H121.70V315.87H123.95V316.18H126.20V316.50H128.39V317.00H130.57V317.50H132.76V318.00H134.94V318.50H137.13V319.00H139.31V319.50H141.50V320.00H143.25V320.45H145.00V320.90H147.00V321.26H149.00V321.62H151.00V321.98H153.00V322.34H155.00V322.70H157.43V323.13H159.87V323.57H162.30V324.00H164.48V324.45H166.65V324.90H168.82V325.35H171.00V325.80H173.15V326.45H175.30V327.10H177.45V327.75H179.60V328.40H181.78V329.05H183.95V329.70H186.12V330.35H188.30V331.00H190.60V332.43H192.90V333.87H195.20V335.30H197.80V336.15H200.40V337.00H202.55V338.30H204.70V339.60H207.30V344.50H217.70" fill="none" stroke="#24507f" stroke-width="1.5"/>
<path d="M217.70 344.50H217.70V351.70H224.60" fill="none" stroke="#1b3d66" stroke-width="1.7"/>
<line x1="95.00" y1="312.12" x2="95.00" y2="314.12" stroke="#1b3d66" stroke-width="1.0"/>
<line x1="100.00" y1="312.54" x2="100.00" y2="314.54" stroke="#1b3d66" stroke-width="1.0"/>
<line x1="105.00" y1="312.96" x2="105.00" y2="314.96" stroke="#1b3d66" stroke-width="1.0"/>
<line x1="110.00" y1="313.38" x2="110.00" y2="315.38" stroke="#1b3d66" stroke-width="1.0"/>
<line x1="115.00" y1="313.92" x2="115.00" y2="315.92" stroke="#1b3d66" stroke-width="1.0"/>
<line x1="120.00" y1="314.63" x2="120.00" y2="316.63" stroke="#1b3d66" stroke-width="1.0"/>
<line x1="125.00" y1="315.33" x2="125.00" y2="317.33" stroke="#1b3d66" stroke-width="1.0"/>
<line x1="127.00" y1="315.53" x2="127.00" y2="317.83" stroke="#1b3d66" stroke-width="1.1"/>
<line x1="129.40" y1="316.08" x2="129.40" y2="318.38" stroke="#1b3d66" stroke-width="1.1"/>
<line x1="131.80" y1="316.63" x2="131.80" y2="318.93" stroke="#1b3d66" stroke-width="1.1"/>
<line x1="134.20" y1="317.18" x2="134.20" y2="319.48" stroke="#1b3d66" stroke-width="1.1"/>
<line x1="136.60" y1="317.73" x2="136.60" y2="320.03" stroke="#1b3d66" stroke-width="1.1"/>
<line x1="139.00" y1="318.28" x2="139.00" y2="320.58" stroke="#1b3d66" stroke-width="1.1"/>
<line x1="141.40" y1="318.83" x2="141.40" y2="321.13" stroke="#1b3d66" stroke-width="1.1"/>
<line x1="143.80" y1="319.44" x2="143.80" y2="321.74" stroke="#1b3d66" stroke-width="1.1"/>
<line x1="146.20" y1="319.97" x2="146.20" y2="322.27" stroke="#1b3d66" stroke-width="1.1"/>
<line x1="148.60" y1="320.40" x2="148.60" y2="322.70" stroke="#1b3d66" stroke-width="1.1"/>
<line x1="151.00" y1="320.83" x2="151.00" y2="323.13" stroke="#1b3d66" stroke-width="1.1"/>
<line x1="153.40" y1="321.26" x2="153.40" y2="323.56" stroke="#1b3d66" stroke-width="1.1"/>
<line x1="155.80" y1="321.69" x2="155.80" y2="323.99" stroke="#1b3d66" stroke-width="1.1"/>
<line x1="158.20" y1="322.12" x2="158.20" y2="324.42" stroke="#1b3d66" stroke-width="1.1"/>
<line x1="160.60" y1="322.55" x2="160.60" y2="324.85" stroke="#1b3d66" stroke-width="1.1"/>
<line x1="163.00" y1="322.99" x2="163.00" y2="325.29" stroke="#1b3d66" stroke-width="1.1"/>
<line x1="165.40" y1="323.49" x2="165.40" y2="325.79" stroke="#1b3d66" stroke-width="1.1"/>
<line x1="167.80" y1="323.99" x2="167.80" y2="326.29" stroke="#1b3d66" stroke-width="1.1"/>
<line x1="170.20" y1="324.48" x2="170.20" y2="326.78" stroke="#1b3d66" stroke-width="1.1"/>
<line x1="172.60" y1="325.13" x2="172.60" y2="327.43" stroke="#1b3d66" stroke-width="1.1"/>
<line x1="175.00" y1="325.86" x2="175.00" y2="328.16" stroke="#1b3d66" stroke-width="1.1"/>
<line x1="177.40" y1="326.58" x2="177.40" y2="328.88" stroke="#1b3d66" stroke-width="1.1"/>
<line x1="179.80" y1="327.31" x2="179.80" y2="329.61" stroke="#1b3d66" stroke-width="1.1"/>
<line x1="182.20" y1="328.03" x2="182.20" y2="330.33" stroke="#1b3d66" stroke-width="1.1"/>
<line x1="184.60" y1="328.74" x2="184.60" y2="331.04" stroke="#1b3d66" stroke-width="1.1"/>
<line x1="187.00" y1="329.46" x2="187.00" y2="331.76" stroke="#1b3d66" stroke-width="1.1"/>
<line x1="189.40" y1="330.54" x2="189.40" y2="332.84" stroke="#1b3d66" stroke-width="1.1"/>
<line x1="191.80" y1="332.03" x2="191.80" y2="334.33" stroke="#1b3d66" stroke-width="1.1"/>
<line x1="194.20" y1="333.53" x2="194.20" y2="335.83" stroke="#1b3d66" stroke-width="1.1"/>
<line x1="196.60" y1="334.61" x2="196.60" y2="336.91" stroke="#1b3d66" stroke-width="1.1"/>
<line x1="199.00" y1="335.39" x2="199.00" y2="337.69" stroke="#1b3d66" stroke-width="1.1"/>
<line x1="201.40" y1="336.45" x2="201.40" y2="338.75" stroke="#1b3d66" stroke-width="1.1"/>
<line x1="203.80" y1="337.91" x2="203.80" y2="340.21" stroke="#1b3d66" stroke-width="1.1"/>
<line x1="206.20" y1="341.28" x2="206.20" y2="343.58" stroke="#1b3d66" stroke-width="1.1"/>
<line x1="209.00" y1="343.40" x2="209.00" y2="345.60" stroke="#1b3d66" stroke-width="1.1"/>
<line x1="211.60" y1="343.40" x2="211.60" y2="345.60" stroke="#1b3d66" stroke-width="1.1"/>
<line x1="214.20" y1="343.40" x2="214.20" y2="345.60" stroke="#1b3d66" stroke-width="1.1"/>
<line x1="216.80" y1="343.40" x2="216.80" y2="345.60" stroke="#1b3d66" stroke-width="1.1"/>
<line x1="219.50" y1="350.60" x2="219.50" y2="352.80" stroke="#1b3d66" stroke-width="1.1"/>
<line x1="222.00" y1="350.60" x2="222.00" y2="352.80" stroke="#1b3d66" stroke-width="1.1"/>
<line x1="224.50" y1="350.60" x2="224.50" y2="352.80" stroke="#1b3d66" stroke-width="1.1"/>
<line x1="71.30" y1="349.60" x2="79.30" y2="349.60" stroke="#3f6a9c" stroke-width="1.1"/>
<text x="83.50" y="352.00" font-size="6.9" fill="#444" stroke="#444" stroke-width="0.2" textLength="15.34" lengthAdjust="spacingAndGlyphs">nCKT</text>
<line x1="71.30" y1="358.90" x2="79.30" y2="358.90" stroke="#c44a62" stroke-width="1.1"/>
<text x="83.50" y="361.30" font-size="6.9" fill="#444" stroke="#444" stroke-width="0.2" textLength="79.60" lengthAdjust="spacingAndGlyphs">CKT without any translocation</text>
<line x1="71.30" y1="368.20" x2="79.30" y2="368.20" stroke="#5f6c78" stroke-width="1.1"/>
<text x="83.50" y="370.60" font-size="6.9" fill="#444" stroke="#444" stroke-width="0.2" textLength="66.91" lengthAdjust="spacingAndGlyphs">CKT with translocation(s)</text>
<text x="71.80" y="385.40" font-size="7.5" fill="#444" stroke="#444" stroke-width="0.2" textLength="100.00" lengthAdjust="spacingAndGlyphs"><tspan fill="#b5193f" font-weight="bold" stroke="#b5193f">CKT without TL</tspan><tspan fill="#555" stroke="#555"> vs </tspan><tspan fill="#234a82" font-weight="bold" stroke="#234a82">nCKT:</tspan><tspan fill="#444" stroke="#444"> HR 0.53,</tspan></text>
<text x="71.80" y="393.00" font-size="7.5" fill="#444" stroke="#444" stroke-width="0.2" textLength="70.00" lengthAdjust="spacingAndGlyphs">95% CI 0.20-1.45, P = .217</text>
<text x="71.80" y="400.70" font-size="7.5" fill="#444" stroke="#444" stroke-width="0.2" textLength="90.50" lengthAdjust="spacingAndGlyphs"><tspan fill="#3d4d5c" font-weight="bold" stroke="#3d4d5c">CKT with TL</tspan><tspan fill="#555" stroke="#555"> vs </tspan><tspan fill="#234a82" font-weight="bold" stroke="#234a82">nCKT:</tspan><tspan font-weight="bold" fill="#111" stroke="#111"> HR 2.79</tspan><tspan>,</tspan></text>
<text x="71.80" y="408.10" font-size="7.5" fill="#444" stroke="#444" stroke-width="0.2" textLength="77.80" lengthAdjust="spacingAndGlyphs"><tspan>95% CI 1.76-4.42, </tspan><tspan font-weight="bold" fill="#111" stroke="#111">P</tspan><tspan font-weight="bold" fill="#111" stroke="#111"> &lt; </tspan><tspan font-weight="bold" fill="#111" stroke="#111">.001</tspan></text>
<text x="108.70" y="438.60" font-size="8.6" fill="#333" stroke="#333" stroke-width="0.2" textLength="86.20" lengthAdjust="spacingAndGlyphs">Time to event [PFS] (months)</text>
<text x="29.00" y="438.90" font-size="7.0" fill="#444" stroke="#444" stroke-width="0.2" textLength="41.50" lengthAdjust="spacingAndGlyphs">Patients at risk</text>
<text x="45.20" y="448.90" font-size="6.9" fill="#3d6298" stroke="#3d6298" stroke-width="0.08" text-anchor="end" textLength="15.87" lengthAdjust="spacingAndGlyphs">nCKT</text>
<text x="56.30" y="448.90" font-size="6.9" fill="#333" stroke="#333" stroke-width="0.2" text-anchor="middle" textLength="10.71" lengthAdjust="spacingAndGlyphs">565</text>
<text x="90.36" y="448.90" font-size="6.9" fill="#333" stroke="#333" stroke-width="0.2" text-anchor="middle" textLength="10.71" lengthAdjust="spacingAndGlyphs">547</text>
<text x="124.42" y="448.90" font-size="6.9" fill="#333" stroke="#333" stroke-width="0.2" text-anchor="middle" textLength="10.71" lengthAdjust="spacingAndGlyphs">522</text>
<text x="158.48" y="448.90" font-size="6.9" fill="#333" stroke="#333" stroke-width="0.2" text-anchor="middle" textLength="10.71" lengthAdjust="spacingAndGlyphs">308</text>
<text x="192.54" y="448.90" font-size="6.9" fill="#333" stroke="#333" stroke-width="0.2" text-anchor="middle" textLength="7.14" lengthAdjust="spacingAndGlyphs">99</text>
<text x="45.20" y="456.90" font-size="6.9" fill="#cf4a6a" stroke="#cf4a6a" stroke-width="0.08" text-anchor="end" textLength="12.42" lengthAdjust="spacingAndGlyphs">CKT</text>
<text x="45.20" y="464.80" font-size="6.9" fill="#cf4a6a" stroke="#cf4a6a" stroke-width="0.08" text-anchor="end" textLength="28.53" lengthAdjust="spacingAndGlyphs">without TL</text>
<text x="56.30" y="461.40" font-size="6.9" fill="#333" stroke="#333" stroke-width="0.2" text-anchor="middle" textLength="7.14" lengthAdjust="spacingAndGlyphs">43</text>
<text x="90.36" y="461.40" font-size="6.9" fill="#333" stroke="#333" stroke-width="0.2" text-anchor="middle" textLength="7.14" lengthAdjust="spacingAndGlyphs">41</text>
<text x="124.42" y="461.40" font-size="6.9" fill="#333" stroke="#333" stroke-width="0.2" text-anchor="middle" textLength="7.14" lengthAdjust="spacingAndGlyphs">39</text>
<text x="158.48" y="461.40" font-size="6.9" fill="#333" stroke="#333" stroke-width="0.2" text-anchor="middle" textLength="7.14" lengthAdjust="spacingAndGlyphs">25</text>
<text x="192.54" y="461.40" font-size="6.9" fill="#333" stroke="#333" stroke-width="0.2" text-anchor="middle" textLength="7.14" lengthAdjust="spacingAndGlyphs">12</text>
<text x="45.20" y="472.90" font-size="6.9" fill="#7f8c9a" stroke="#7f8c9a" stroke-width="0.08" text-anchor="end" textLength="33.93" lengthAdjust="spacingAndGlyphs">CKT with TL</text>
<text x="56.30" y="472.90" font-size="6.9" fill="#333" stroke="#333" stroke-width="0.2" text-anchor="middle" textLength="7.14" lengthAdjust="spacingAndGlyphs">64</text>
<text x="90.36" y="472.90" font-size="6.9" fill="#333" stroke="#333" stroke-width="0.2" text-anchor="middle" textLength="7.14" lengthAdjust="spacingAndGlyphs">61</text>
<text x="124.42" y="472.90" font-size="6.9" fill="#333" stroke="#333" stroke-width="0.2" text-anchor="middle" textLength="7.14" lengthAdjust="spacingAndGlyphs">53</text>
<text x="158.48" y="472.90" font-size="6.9" fill="#333" stroke="#333" stroke-width="0.2" text-anchor="middle" textLength="7.14" lengthAdjust="spacingAndGlyphs">27</text>
<text x="192.54" y="472.90" font-size="6.9" fill="#333" stroke="#333" stroke-width="0.2" text-anchor="middle" textLength="3.57" lengthAdjust="spacingAndGlyphs">4</text>
<text x="275.40" y="299.80" font-size="11.6" fill="#111" stroke="#111" stroke-width="0.35" font-weight="bold" textLength="8.00" lengthAdjust="spacingAndGlyphs">D</text>
<text x="369.50" y="297.40" font-size="8.4" fill="#333" stroke="#333" stroke-width="0.2" textLength="91.00" lengthAdjust="spacingAndGlyphs">Pooled venetoclax arms</text>
<line x1="319.40" y1="302.70" x2="319.40" y2="414.90" stroke="#222" stroke-width="1.25"/>
<line x1="318.80" y1="414.30" x2="509.00" y2="414.30" stroke="#333" stroke-width="1.5"/>
<line x1="316.40" y1="414.30" x2="319.40" y2="414.30" stroke="#222" stroke-width="1.1"/>
<text x="313.70" y="416.40" font-size="6.7" fill="#444" stroke="#444" stroke-width="0.2" text-anchor="end" textLength="8.66" lengthAdjust="spacingAndGlyphs">0.0</text>
<line x1="316.40" y1="393.08" x2="319.40" y2="393.08" stroke="#222" stroke-width="1.1"/>
<text x="313.70" y="395.18" font-size="6.7" fill="#444" stroke="#444" stroke-width="0.2" text-anchor="end" textLength="8.66" lengthAdjust="spacingAndGlyphs">0.2</text>
<line x1="316.40" y1="371.86" x2="319.40" y2="371.86" stroke="#222" stroke-width="1.1"/>
<text x="313.70" y="373.96" font-size="6.7" fill="#444" stroke="#444" stroke-width="0.2" text-anchor="end" textLength="8.66" lengthAdjust="spacingAndGlyphs">0.4</text>
<line x1="316.40" y1="350.64" x2="319.40" y2="350.64" stroke="#222" stroke-width="1.1"/>
<text x="313.70" y="352.74" font-size="6.7" fill="#444" stroke="#444" stroke-width="0.2" text-anchor="end" textLength="8.66" lengthAdjust="spacingAndGlyphs">0.6</text>
<line x1="316.40" y1="329.42" x2="319.40" y2="329.42" stroke="#222" stroke-width="1.1"/>
<text x="313.70" y="331.52" font-size="6.7" fill="#444" stroke="#444" stroke-width="0.2" text-anchor="end" textLength="8.66" lengthAdjust="spacingAndGlyphs">0.8</text>
<line x1="316.40" y1="308.20" x2="319.40" y2="308.20" stroke="#222" stroke-width="1.1"/>
<text x="313.70" y="310.30" font-size="6.7" fill="#444" stroke="#444" stroke-width="0.2" text-anchor="end" textLength="8.66" lengthAdjust="spacingAndGlyphs">1.0</text>
<line x1="319.40" y1="414.30" x2="319.40" y2="417.30" stroke="#222" stroke-width="1.1"/>
<text x="319.40" y="426.20" font-size="6.7" fill="#444" stroke="#444" stroke-width="0.2" text-anchor="middle" textLength="3.20" lengthAdjust="spacingAndGlyphs">0</text>
<line x1="354.76" y1="414.30" x2="354.76" y2="417.30" stroke="#222" stroke-width="1.1"/>
<text x="354.76" y="426.20" font-size="6.7" fill="#444" stroke="#444" stroke-width="0.2" text-anchor="middle" textLength="6.41" lengthAdjust="spacingAndGlyphs">12</text>
<line x1="390.12" y1="414.30" x2="390.12" y2="417.30" stroke="#222" stroke-width="1.1"/>
<text x="390.12" y="426.20" font-size="6.7" fill="#444" stroke="#444" stroke-width="0.2" text-anchor="middle" textLength="6.41" lengthAdjust="spacingAndGlyphs">24</text>
<line x1="425.48" y1="414.30" x2="425.48" y2="417.30" stroke="#222" stroke-width="1.1"/>
<text x="425.48" y="426.20" font-size="6.7" fill="#444" stroke="#444" stroke-width="0.2" text-anchor="middle" textLength="6.41" lengthAdjust="spacingAndGlyphs">36</text>
<line x1="460.84" y1="414.30" x2="460.84" y2="417.30" stroke="#222" stroke-width="1.1"/>
<text x="460.84" y="426.20" font-size="6.7" fill="#444" stroke="#444" stroke-width="0.2" text-anchor="middle" textLength="6.41" lengthAdjust="spacingAndGlyphs">48</text>
<line x1="496.20" y1="414.30" x2="496.20" y2="417.30" stroke="#222" stroke-width="1.1"/>
<text x="496.20" y="426.20" font-size="6.7" fill="#444" stroke="#444" stroke-width="0.2" text-anchor="middle" textLength="6.41" lengthAdjust="spacingAndGlyphs">60</text>
<text transform="translate(299.40,358.45) rotate(-90)" font-size="8.4" fill="#444" stroke="#444" stroke-width="0.15" text-anchor="middle" textLength="38.4" lengthAdjust="spacingAndGlyphs">Cum survival</text>
<path d="M319.40 308.20H343.00V312.50H357.40V317.70H365.10V322.10H375.70V327.00H383.40V332.30H404.50V336.90H411.00V338.50H413.50V344.60H414.20V350.40H419.20V356.70H430.20V364.40H455.80V377.30H467.30" fill="none" stroke="#bc2b4d" stroke-width="1.3"/>
<line x1="437.00" y1="363.40" x2="437.00" y2="365.40" stroke="#8c1c38" stroke-width="1.0"/>
<line x1="444.00" y1="363.40" x2="444.00" y2="365.40" stroke="#8c1c38" stroke-width="1.0"/>
<line x1="451.00" y1="363.40" x2="451.00" y2="365.40" stroke="#8c1c38" stroke-width="1.0"/>
<line x1="458.00" y1="376.30" x2="458.00" y2="378.30" stroke="#8c1c38" stroke-width="1.0"/>
<line x1="465.00" y1="376.30" x2="465.00" y2="378.30" stroke="#8c1c38" stroke-width="1.0"/>
<line x1="390.00" y1="331.30" x2="390.00" y2="333.30" stroke="#8c1c38" stroke-width="1.0"/>
<line x1="396.00" y1="331.30" x2="396.00" y2="333.30" stroke="#8c1c38" stroke-width="1.0"/>
<line x1="402.00" y1="331.30" x2="402.00" y2="333.30" stroke="#8c1c38" stroke-width="1.0"/>
<path d="M319.40 308.20H321.55V308.33H323.69V308.45H325.84V308.58H327.98V308.71H330.13V308.84H332.27V308.96H334.42V309.09H336.56V309.22H338.71V309.35H340.85V309.47H343.00V309.60H345.25V309.87H347.50V310.13H349.75V310.40H352.00V310.67H354.25V310.93H356.50V311.20H358.63V311.34H360.77V311.49H362.90V311.63H365.03V311.78H367.17V311.92H369.30V312.07H371.43V312.21H373.57V312.36H375.70V312.50H378.10V312.82H380.50V313.15H382.90V313.48H385.30V313.80H387.55V314.13H389.80V314.47H392.05V314.80H394.30V315.13H396.55V315.47H398.80V315.80H401.10V316.30H403.40V316.80H405.70V317.30H408.00V317.80H410.30V318.30H412.87V318.60H415.43V318.90H418.00V319.20H420.24V319.74H422.48V320.28H424.72V320.82H426.96V321.36H429.20V321.90H431.60V322.30H434.00V322.70H436.40V323.10H438.80V323.50H441.23V324.35H443.65V325.20H446.07V326.05H448.50V326.90H450.88V327.47H453.25V328.05H455.62V328.62H458.00V329.20H459.93V330.47H461.87V331.73H463.80V333.00H466.37V334.00H468.93V335.00H471.50V336.00H474.40V340.80H476.30V344.20H487.90" fill="none" stroke="#24507f" stroke-width="1.5"/>
<path d="M487.90 344.20H487.90V350.40H494.60" fill="none" stroke="#1b3d66" stroke-width="1.7"/>
<line x1="350.00" y1="309.43" x2="350.00" y2="311.43" stroke="#1b3d66" stroke-width="1.0"/>
<line x1="355.00" y1="310.02" x2="355.00" y2="312.02" stroke="#1b3d66" stroke-width="1.0"/>
<line x1="360.00" y1="310.44" x2="360.00" y2="312.44" stroke="#1b3d66" stroke-width="1.0"/>
<line x1="365.00" y1="310.78" x2="365.00" y2="312.78" stroke="#1b3d66" stroke-width="1.0"/>
<line x1="370.00" y1="311.11" x2="370.00" y2="313.11" stroke="#1b3d66" stroke-width="1.0"/>
<line x1="375.00" y1="311.45" x2="375.00" y2="313.45" stroke="#1b3d66" stroke-width="1.0"/>
<line x1="380.00" y1="312.08" x2="380.00" y2="314.08" stroke="#1b3d66" stroke-width="1.0"/>
<line x1="385.00" y1="312.76" x2="385.00" y2="314.76" stroke="#1b3d66" stroke-width="1.0"/>
<line x1="390.00" y1="313.50" x2="390.00" y2="315.50" stroke="#1b3d66" stroke-width="1.0"/>
<line x1="395.00" y1="314.24" x2="395.00" y2="316.24" stroke="#1b3d66" stroke-width="1.0"/>
<line x1="397.00" y1="314.38" x2="397.00" y2="316.68" stroke="#1b3d66" stroke-width="1.1"/>
<line x1="399.40" y1="314.78" x2="399.40" y2="317.08" stroke="#1b3d66" stroke-width="1.1"/>
<line x1="401.80" y1="315.30" x2="401.80" y2="317.60" stroke="#1b3d66" stroke-width="1.1"/>
<line x1="404.20" y1="315.82" x2="404.20" y2="318.12" stroke="#1b3d66" stroke-width="1.1"/>
<line x1="406.60" y1="316.35" x2="406.60" y2="318.65" stroke="#1b3d66" stroke-width="1.1"/>
<line x1="409.00" y1="316.87" x2="409.00" y2="319.17" stroke="#1b3d66" stroke-width="1.1"/>
<line x1="411.40" y1="317.28" x2="411.40" y2="319.58" stroke="#1b3d66" stroke-width="1.1"/>
<line x1="413.80" y1="317.56" x2="413.80" y2="319.86" stroke="#1b3d66" stroke-width="1.1"/>
<line x1="416.20" y1="317.84" x2="416.20" y2="320.14" stroke="#1b3d66" stroke-width="1.1"/>
<line x1="418.60" y1="318.19" x2="418.60" y2="320.49" stroke="#1b3d66" stroke-width="1.1"/>
<line x1="421.00" y1="318.77" x2="421.00" y2="321.07" stroke="#1b3d66" stroke-width="1.1"/>
<line x1="423.40" y1="319.35" x2="423.40" y2="321.65" stroke="#1b3d66" stroke-width="1.1"/>
<line x1="425.80" y1="319.93" x2="425.80" y2="322.23" stroke="#1b3d66" stroke-width="1.1"/>
<line x1="428.20" y1="320.51" x2="428.20" y2="322.81" stroke="#1b3d66" stroke-width="1.1"/>
<line x1="430.60" y1="320.98" x2="430.60" y2="323.28" stroke="#1b3d66" stroke-width="1.1"/>
<line x1="433.00" y1="321.38" x2="433.00" y2="323.68" stroke="#1b3d66" stroke-width="1.1"/>
<line x1="435.40" y1="321.78" x2="435.40" y2="324.08" stroke="#1b3d66" stroke-width="1.1"/>
<line x1="437.80" y1="322.18" x2="437.80" y2="324.48" stroke="#1b3d66" stroke-width="1.1"/>
<line x1="440.20" y1="322.84" x2="440.20" y2="325.14" stroke="#1b3d66" stroke-width="1.1"/>
<line x1="442.60" y1="323.68" x2="442.60" y2="325.98" stroke="#1b3d66" stroke-width="1.1"/>
<line x1="445.00" y1="324.52" x2="445.00" y2="326.82" stroke="#1b3d66" stroke-width="1.1"/>
<line x1="447.40" y1="325.36" x2="447.40" y2="327.66" stroke="#1b3d66" stroke-width="1.1"/>
<line x1="449.80" y1="326.06" x2="449.80" y2="328.36" stroke="#1b3d66" stroke-width="1.1"/>
<line x1="452.20" y1="326.65" x2="452.20" y2="328.95" stroke="#1b3d66" stroke-width="1.1"/>
<line x1="454.60" y1="327.23" x2="454.60" y2="329.53" stroke="#1b3d66" stroke-width="1.1"/>
<line x1="457.00" y1="327.81" x2="457.00" y2="330.11" stroke="#1b3d66" stroke-width="1.1"/>
<line x1="459.40" y1="328.97" x2="459.40" y2="331.27" stroke="#1b3d66" stroke-width="1.1"/>
<line x1="461.80" y1="330.54" x2="461.80" y2="332.84" stroke="#1b3d66" stroke-width="1.1"/>
<line x1="464.20" y1="332.01" x2="464.20" y2="334.31" stroke="#1b3d66" stroke-width="1.1"/>
<line x1="466.60" y1="332.94" x2="466.60" y2="335.24" stroke="#1b3d66" stroke-width="1.1"/>
<line x1="469.00" y1="333.88" x2="469.00" y2="336.18" stroke="#1b3d66" stroke-width="1.1"/>
<line x1="471.40" y1="334.81" x2="471.40" y2="337.11" stroke="#1b3d66" stroke-width="1.1"/>
<line x1="473.80" y1="338.66" x2="473.80" y2="340.96" stroke="#1b3d66" stroke-width="1.1"/>
<line x1="478.00" y1="343.10" x2="478.00" y2="345.30" stroke="#1b3d66" stroke-width="1.1"/>
<line x1="480.60" y1="343.10" x2="480.60" y2="345.30" stroke="#1b3d66" stroke-width="1.1"/>
<line x1="483.20" y1="343.10" x2="483.20" y2="345.30" stroke="#1b3d66" stroke-width="1.1"/>
<line x1="485.80" y1="343.10" x2="485.80" y2="345.30" stroke="#1b3d66" stroke-width="1.1"/>
<line x1="489.50" y1="349.30" x2="489.50" y2="351.50" stroke="#1b3d66" stroke-width="1.1"/>
<line x1="492.00" y1="349.30" x2="492.00" y2="351.50" stroke="#1b3d66" stroke-width="1.1"/>
<line x1="494.50" y1="349.30" x2="494.50" y2="351.50" stroke="#1b3d66" stroke-width="1.1"/>
<line x1="334.80" y1="365.50" x2="343.80" y2="365.50" stroke="#3f6a9c" stroke-width="1.1"/>
<text x="346.90" y="367.20" font-size="6.6" fill="#555" stroke="#555" stroke-width="0.2" textLength="23.28" lengthAdjust="spacingAndGlyphs">No t(8;x)</text>
<line x1="334.80" y1="374.60" x2="343.80" y2="374.60" stroke="#c44a62" stroke-width="1.1"/>
<text x="346.90" y="376.30" font-size="6.6" fill="#555" stroke="#555" stroke-width="0.2" textLength="13.83" lengthAdjust="spacingAndGlyphs">t(8;x)</text>
<text x="335.00" y="400.90" font-size="7.2" fill="#111" stroke="#111" stroke-width="0.2" textLength="166.70" lengthAdjust="spacingAndGlyphs"><tspan fill="#b5193f" font-weight="bold" stroke="#b5193f">t(8;x)</tspan><tspan fill="#555" stroke="#555"> vs </tspan><tspan fill="#234a82" font-weight="bold" stroke="#234a82">no t(8;x):</tspan><tspan font-weight="bold"> HR = 3.94</tspan><tspan fill="#444" stroke="#444">, 95% CI 2.11-7.34, </tspan><tspan font-weight="bold" font-style="italic">P</tspan><tspan font-weight="bold"> &lt; </tspan><tspan font-weight="bold" font-style="italic">.001</tspan></text>
<text x="372.00" y="438.40" font-size="8.6" fill="#333" stroke="#333" stroke-width="0.2" textLength="86.60" lengthAdjust="spacingAndGlyphs">Time to event [PFS] (months)</text>
<text x="292.30" y="438.50" font-size="7.0" fill="#444" stroke="#444" stroke-width="0.2" textLength="41.70" lengthAdjust="spacingAndGlyphs">Patients at risk</text>
<text x="307.80" y="448.50" font-size="6.9" fill="#3d6298" stroke="#3d6298" stroke-width="0.08" text-anchor="end" textLength="23.81" lengthAdjust="spacingAndGlyphs">No t(8;x)</text>
<text x="319.40" y="448.50" font-size="6.9" fill="#333" stroke="#333" stroke-width="0.2" text-anchor="middle" textLength="10.71" lengthAdjust="spacingAndGlyphs">643</text>
<text x="354.76" y="448.50" font-size="6.9" fill="#333" stroke="#333" stroke-width="0.2" text-anchor="middle" textLength="10.71" lengthAdjust="spacingAndGlyphs">621</text>
<text x="390.12" y="448.50" font-size="6.9" fill="#333" stroke="#333" stroke-width="0.2" text-anchor="middle" textLength="10.71" lengthAdjust="spacingAndGlyphs">590</text>
<text x="425.48" y="448.50" font-size="6.9" fill="#333" stroke="#333" stroke-width="0.2" text-anchor="middle" textLength="10.71" lengthAdjust="spacingAndGlyphs">350</text>
<text x="460.84" y="448.50" font-size="6.9" fill="#333" stroke="#333" stroke-width="0.2" text-anchor="middle" textLength="10.23" lengthAdjust="spacingAndGlyphs">112</text>
<text x="307.80" y="458.60" font-size="6.9" fill="#cf4a6a" stroke="#cf4a6a" stroke-width="0.08" text-anchor="end" textLength="14.14" lengthAdjust="spacingAndGlyphs">t(8;x)</text>
<text x="319.40" y="458.60" font-size="6.9" fill="#333" stroke="#333" stroke-width="0.2" text-anchor="middle" textLength="7.14" lengthAdjust="spacingAndGlyphs">22</text>
<text x="354.76" y="458.60" font-size="6.9" fill="#333" stroke="#333" stroke-width="0.2" text-anchor="middle" textLength="7.14" lengthAdjust="spacingAndGlyphs">21</text>
<text x="390.12" y="458.60" font-size="6.9" fill="#333" stroke="#333" stroke-width="0.2" text-anchor="middle" textLength="7.14" lengthAdjust="spacingAndGlyphs">17</text>
<text x="425.48" y="458.60" font-size="6.9" fill="#333" stroke="#333" stroke-width="0.2" text-anchor="middle" textLength="3.57" lengthAdjust="spacingAndGlyphs">9</text>
<text x="460.84" y="458.60" font-size="6.9" fill="#333" stroke="#333" stroke-width="0.2" text-anchor="middle" textLength="3.57" lengthAdjust="spacingAndGlyphs">3</text>
<text x="141.10" y="499.50" font-size="11.4" fill="#111" stroke="#111" stroke-width="0.35" font-weight="bold" textLength="6.30" lengthAdjust="spacingAndGlyphs">E</text>
<text x="236.00" y="497.40" font-size="8.4" fill="#333" stroke="#333" stroke-width="0.2" textLength="91.30" lengthAdjust="spacingAndGlyphs">Pooled venetoclax arms</text>
<line x1="184.40" y1="502.70" x2="184.40" y2="612.20" stroke="#222" stroke-width="1.25"/>
<line x1="183.80" y1="611.60" x2="378.50" y2="611.60" stroke="#333" stroke-width="1.5"/>
<line x1="181.40" y1="611.60" x2="184.40" y2="611.60" stroke="#222" stroke-width="1.1"/>
<text x="178.20" y="613.70" font-size="6.7" fill="#444" stroke="#444" stroke-width="0.2" text-anchor="end" textLength="8.66" lengthAdjust="spacingAndGlyphs">0.0</text>
<line x1="181.40" y1="590.84" x2="184.40" y2="590.84" stroke="#222" stroke-width="1.1"/>
<text x="178.20" y="592.94" font-size="6.7" fill="#444" stroke="#444" stroke-width="0.2" text-anchor="end" textLength="8.66" lengthAdjust="spacingAndGlyphs">0.2</text>
<line x1="181.40" y1="570.08" x2="184.40" y2="570.08" stroke="#222" stroke-width="1.1"/>
<text x="178.20" y="572.18" font-size="6.7" fill="#444" stroke="#444" stroke-width="0.2" text-anchor="end" textLength="8.66" lengthAdjust="spacingAndGlyphs">0.4</text>
<line x1="181.40" y1="549.32" x2="184.40" y2="549.32" stroke="#222" stroke-width="1.1"/>
<text x="178.20" y="551.42" font-size="6.7" fill="#444" stroke="#444" stroke-width="0.2" text-anchor="end" textLength="8.66" lengthAdjust="spacingAndGlyphs">0.6</text>
<line x1="181.40" y1="528.56" x2="184.40" y2="528.56" stroke="#222" stroke-width="1.1"/>
<text x="178.20" y="530.66" font-size="6.7" fill="#444" stroke="#444" stroke-width="0.2" text-anchor="end" textLength="8.66" lengthAdjust="spacingAndGlyphs">0.8</text>
<line x1="181.40" y1="507.80" x2="184.40" y2="507.80" stroke="#222" stroke-width="1.1"/>
<text x="178.20" y="509.90" font-size="6.7" fill="#444" stroke="#444" stroke-width="0.2" text-anchor="end" textLength="8.66" lengthAdjust="spacingAndGlyphs">1.0</text>
<line x1="184.40" y1="611.60" x2="184.40" y2="614.60" stroke="#222" stroke-width="1.1"/>
<text x="184.40" y="623.30" font-size="6.7" fill="#444" stroke="#444" stroke-width="0.2" text-anchor="middle" textLength="3.20" lengthAdjust="spacingAndGlyphs">0</text>
<line x1="218.48" y1="611.60" x2="218.48" y2="614.60" stroke="#222" stroke-width="1.1"/>
<text x="218.48" y="623.30" font-size="6.7" fill="#444" stroke="#444" stroke-width="0.2" text-anchor="middle" textLength="6.41" lengthAdjust="spacingAndGlyphs">12</text>
<line x1="252.56" y1="611.60" x2="252.56" y2="614.60" stroke="#222" stroke-width="1.1"/>
<text x="252.56" y="623.30" font-size="6.7" fill="#444" stroke="#444" stroke-width="0.2" text-anchor="middle" textLength="6.41" lengthAdjust="spacingAndGlyphs">24</text>
<line x1="286.64" y1="611.60" x2="286.64" y2="614.60" stroke="#222" stroke-width="1.1"/>
<text x="286.64" y="623.30" font-size="6.7" fill="#444" stroke="#444" stroke-width="0.2" text-anchor="middle" textLength="6.41" lengthAdjust="spacingAndGlyphs">36</text>
<line x1="320.72" y1="611.60" x2="320.72" y2="614.60" stroke="#222" stroke-width="1.1"/>
<text x="320.72" y="623.30" font-size="6.7" fill="#444" stroke="#444" stroke-width="0.2" text-anchor="middle" textLength="6.41" lengthAdjust="spacingAndGlyphs">48</text>
<line x1="354.80" y1="611.60" x2="354.80" y2="614.60" stroke="#222" stroke-width="1.1"/>
<text x="354.80" y="623.30" font-size="6.7" fill="#444" stroke="#444" stroke-width="0.2" text-anchor="middle" textLength="6.41" lengthAdjust="spacingAndGlyphs">60</text>
<text transform="translate(164.50,556.90) rotate(-90)" font-size="8.4" fill="#444" stroke="#444" stroke-width="0.15" text-anchor="middle" textLength="38.4" lengthAdjust="spacingAndGlyphs">Cum survival</text>
<path d="M184.40 507.80H188.80V510.70H196.50V515.10H222.40V518.30H230.10V521.80H247.40V528.90H258.00V532.80H265.70V536.60H282.50V541.50H309.40V551.50H333.50" fill="none" stroke="#bc2b4d" stroke-width="1.3"/>
<line x1="287.00" y1="540.50" x2="287.00" y2="542.50" stroke="#8c1c38" stroke-width="1.0"/>
<line x1="292.50" y1="540.50" x2="292.50" y2="542.50" stroke="#8c1c38" stroke-width="1.0"/>
<line x1="298.00" y1="540.50" x2="298.00" y2="542.50" stroke="#8c1c38" stroke-width="1.0"/>
<line x1="303.50" y1="540.50" x2="303.50" y2="542.50" stroke="#8c1c38" stroke-width="1.0"/>
<line x1="309.00" y1="540.50" x2="309.00" y2="542.50" stroke="#8c1c38" stroke-width="1.0"/>
<line x1="314.50" y1="550.50" x2="314.50" y2="552.50" stroke="#8c1c38" stroke-width="1.0"/>
<line x1="320.00" y1="550.50" x2="320.00" y2="552.50" stroke="#8c1c38" stroke-width="1.0"/>
<line x1="325.50" y1="550.50" x2="325.50" y2="552.50" stroke="#8c1c38" stroke-width="1.0"/>
<line x1="331.00" y1="550.50" x2="331.00" y2="552.50" stroke="#8c1c38" stroke-width="1.0"/>
<path d="M184.40 507.80H186.62V507.99H188.85V508.18H191.07V508.36H193.30V508.55H195.53V508.74H197.75V508.93H199.97V509.11H202.20V509.30H204.34V509.46H206.49V509.61H208.63V509.77H210.78V509.92H212.92V510.08H215.07V510.23H217.21V510.39H219.36V510.54H221.50V510.70H223.63V510.91H225.77V511.12H227.90V511.33H230.03V511.54H232.17V511.76H234.30V511.97H236.43V512.18H238.57V512.39H240.70V512.60H242.84V512.88H244.99V513.16H247.13V513.43H249.28V513.71H251.42V513.99H253.57V514.27H255.71V514.54H257.86V514.82H260.00V515.10H262.38V515.58H264.75V516.05H267.12V516.52H269.50V517.00H271.75V517.55H274.00V518.10H276.25V518.65H278.50V519.20H280.75V519.75H283.00V520.30H285.07V520.63H287.13V520.97H289.20V521.30H291.60V521.80H294.00V522.30H296.40V522.80H298.80V523.30H301.23V524.02H303.65V524.75H306.07V525.48H308.50V526.20H310.88V526.90H313.25V527.60H315.62V528.30H318.00V529.00H319.93V530.30H321.87V531.60H323.80V532.90H326.37V533.87H328.93V534.83H331.50V535.80H334.40V542.50H336.00V543.50H346.90" fill="none" stroke="#24507f" stroke-width="1.5"/>
<path d="M346.90 543.50H346.90V549.80H352.70" fill="none" stroke="#1b3d66" stroke-width="1.7"/>
<line x1="225.00" y1="510.05" x2="225.00" y2="512.05" stroke="#1b3d66" stroke-width="1.0"/>
<line x1="230.00" y1="510.54" x2="230.00" y2="512.54" stroke="#1b3d66" stroke-width="1.0"/>
<line x1="235.00" y1="511.04" x2="235.00" y2="513.04" stroke="#1b3d66" stroke-width="1.0"/>
<line x1="240.00" y1="511.53" x2="240.00" y2="513.53" stroke="#1b3d66" stroke-width="1.0"/>
<line x1="245.00" y1="512.16" x2="245.00" y2="514.16" stroke="#1b3d66" stroke-width="1.0"/>
<line x1="250.00" y1="512.80" x2="250.00" y2="514.80" stroke="#1b3d66" stroke-width="1.0"/>
<line x1="255.00" y1="513.45" x2="255.00" y2="515.45" stroke="#1b3d66" stroke-width="1.0"/>
<line x1="260.00" y1="514.10" x2="260.00" y2="516.10" stroke="#1b3d66" stroke-width="1.0"/>
<line x1="264.00" y1="514.75" x2="264.00" y2="517.05" stroke="#1b3d66" stroke-width="1.1"/>
<line x1="266.40" y1="515.23" x2="266.40" y2="517.53" stroke="#1b3d66" stroke-width="1.1"/>
<line x1="268.80" y1="515.71" x2="268.80" y2="518.01" stroke="#1b3d66" stroke-width="1.1"/>
<line x1="271.20" y1="516.27" x2="271.20" y2="518.57" stroke="#1b3d66" stroke-width="1.1"/>
<line x1="273.60" y1="516.85" x2="273.60" y2="519.15" stroke="#1b3d66" stroke-width="1.1"/>
<line x1="276.00" y1="517.44" x2="276.00" y2="519.74" stroke="#1b3d66" stroke-width="1.1"/>
<line x1="278.40" y1="518.03" x2="278.40" y2="520.33" stroke="#1b3d66" stroke-width="1.1"/>
<line x1="280.80" y1="518.61" x2="280.80" y2="520.91" stroke="#1b3d66" stroke-width="1.1"/>
<line x1="283.20" y1="519.18" x2="283.20" y2="521.48" stroke="#1b3d66" stroke-width="1.1"/>
<line x1="285.60" y1="519.57" x2="285.60" y2="521.87" stroke="#1b3d66" stroke-width="1.1"/>
<line x1="288.00" y1="519.96" x2="288.00" y2="522.26" stroke="#1b3d66" stroke-width="1.1"/>
<line x1="290.40" y1="520.40" x2="290.40" y2="522.70" stroke="#1b3d66" stroke-width="1.1"/>
<line x1="292.80" y1="520.90" x2="292.80" y2="523.20" stroke="#1b3d66" stroke-width="1.1"/>
<line x1="295.20" y1="521.40" x2="295.20" y2="523.70" stroke="#1b3d66" stroke-width="1.1"/>
<line x1="297.60" y1="521.90" x2="297.60" y2="524.20" stroke="#1b3d66" stroke-width="1.1"/>
<line x1="300.00" y1="522.51" x2="300.00" y2="524.81" stroke="#1b3d66" stroke-width="1.1"/>
<line x1="302.40" y1="523.23" x2="302.40" y2="525.53" stroke="#1b3d66" stroke-width="1.1"/>
<line x1="304.80" y1="523.94" x2="304.80" y2="526.24" stroke="#1b3d66" stroke-width="1.1"/>
<line x1="307.20" y1="524.66" x2="307.20" y2="526.96" stroke="#1b3d66" stroke-width="1.1"/>
<line x1="309.60" y1="525.37" x2="309.60" y2="527.67" stroke="#1b3d66" stroke-width="1.1"/>
<line x1="312.00" y1="526.08" x2="312.00" y2="528.38" stroke="#1b3d66" stroke-width="1.1"/>
<line x1="314.40" y1="526.79" x2="314.40" y2="529.09" stroke="#1b3d66" stroke-width="1.1"/>
<line x1="316.80" y1="527.50" x2="316.80" y2="529.80" stroke="#1b3d66" stroke-width="1.1"/>
<line x1="319.20" y1="528.66" x2="319.20" y2="530.96" stroke="#1b3d66" stroke-width="1.1"/>
<line x1="321.60" y1="530.27" x2="321.60" y2="532.57" stroke="#1b3d66" stroke-width="1.1"/>
<line x1="324.00" y1="531.83" x2="324.00" y2="534.13" stroke="#1b3d66" stroke-width="1.1"/>
<line x1="326.40" y1="532.73" x2="326.40" y2="535.03" stroke="#1b3d66" stroke-width="1.1"/>
<line x1="328.80" y1="533.63" x2="328.80" y2="535.93" stroke="#1b3d66" stroke-width="1.1"/>
<line x1="331.20" y1="534.54" x2="331.20" y2="536.84" stroke="#1b3d66" stroke-width="1.1"/>
<line x1="333.60" y1="539.50" x2="333.60" y2="541.80" stroke="#1b3d66" stroke-width="1.1"/>
<line x1="337.00" y1="542.40" x2="337.00" y2="544.60" stroke="#1b3d66" stroke-width="1.1"/>
<line x1="339.60" y1="542.40" x2="339.60" y2="544.60" stroke="#1b3d66" stroke-width="1.1"/>
<line x1="342.20" y1="542.40" x2="342.20" y2="544.60" stroke="#1b3d66" stroke-width="1.1"/>
<line x1="344.80" y1="542.40" x2="344.80" y2="544.60" stroke="#1b3d66" stroke-width="1.1"/>
<line x1="348.50" y1="548.70" x2="348.50" y2="550.90" stroke="#1b3d66" stroke-width="1.1"/>
<line x1="350.50" y1="548.70" x2="350.50" y2="550.90" stroke="#1b3d66" stroke-width="1.1"/>
<line x1="352.50" y1="548.70" x2="352.50" y2="550.90" stroke="#1b3d66" stroke-width="1.1"/>
<line x1="201.30" y1="566.00" x2="210.60" y2="566.00" stroke="#3f6a9c" stroke-width="1.1"/>
<text x="214.00" y="567.60" font-size="6.6" fill="#555" stroke="#555" stroke-width="0.2" textLength="26.08" lengthAdjust="spacingAndGlyphs">No t(18;x)</text>
<line x1="201.30" y1="575.40" x2="210.60" y2="575.40" stroke="#c44a62" stroke-width="1.1"/>
<text x="214.00" y="577.00" font-size="6.6" fill="#555" stroke="#555" stroke-width="0.2" textLength="16.83" lengthAdjust="spacingAndGlyphs">t(18;x)</text>
<text x="192.80" y="601.10" font-size="7.2" fill="#111" stroke="#111" stroke-width="0.2" textLength="167.50" lengthAdjust="spacingAndGlyphs"><tspan fill="#b5193f" font-weight="bold" stroke="#b5193f">t(18;x)</tspan><tspan fill="#555" stroke="#555"> vs </tspan><tspan fill="#234a82" font-weight="bold" stroke="#234a82">no t(18;x):</tspan><tspan font-weight="bold"> HR 2.48</tspan><tspan fill="#444" stroke="#444">, 95% CI 1.30-4.76, </tspan><tspan font-weight="bold" font-style="italic">P</tspan><tspan font-weight="bold"> = </tspan><tspan font-weight="bold" font-style="italic">.006</tspan></text>
<text x="238.60" y="635.30" font-size="8.6" fill="#333" stroke="#333" stroke-width="0.2" textLength="87.00" lengthAdjust="spacingAndGlyphs">Time to event [PFS] (months)</text>
<text x="157.00" y="634.60" font-size="7.0" fill="#444" stroke="#444" stroke-width="0.2" textLength="41.70" lengthAdjust="spacingAndGlyphs">Patients at risk</text>
<text x="173.00" y="645.90" font-size="6.9" fill="#3d6298" stroke="#3d6298" stroke-width="0.08" text-anchor="end" textLength="27.26" lengthAdjust="spacingAndGlyphs">No t(18;x)</text>
<text x="184.40" y="645.90" font-size="6.9" fill="#333" stroke="#333" stroke-width="0.2" text-anchor="middle" textLength="10.71" lengthAdjust="spacingAndGlyphs">636</text>
<text x="218.48" y="645.90" font-size="6.9" fill="#333" stroke="#333" stroke-width="0.2" text-anchor="middle" textLength="10.71" lengthAdjust="spacingAndGlyphs">615</text>
<text x="252.56" y="645.90" font-size="6.9" fill="#333" stroke="#333" stroke-width="0.2" text-anchor="middle" textLength="10.71" lengthAdjust="spacingAndGlyphs">584</text>
<text x="286.64" y="645.90" font-size="6.9" fill="#333" stroke="#333" stroke-width="0.2" text-anchor="middle" textLength="10.71" lengthAdjust="spacingAndGlyphs">345</text>
<text x="320.72" y="645.90" font-size="6.9" fill="#333" stroke="#333" stroke-width="0.2" text-anchor="middle" textLength="10.23" lengthAdjust="spacingAndGlyphs">112</text>
<text x="173.00" y="655.60" font-size="6.9" fill="#cf4a6a" stroke="#cf4a6a" stroke-width="0.08" text-anchor="end" textLength="17.60" lengthAdjust="spacingAndGlyphs">t(18;x)</text>
<text x="184.40" y="655.60" font-size="6.9" fill="#333" stroke="#333" stroke-width="0.2" text-anchor="middle" textLength="7.14" lengthAdjust="spacingAndGlyphs">29</text>
<text x="218.48" y="655.60" font-size="6.9" fill="#333" stroke="#333" stroke-width="0.2" text-anchor="middle" textLength="7.14" lengthAdjust="spacingAndGlyphs">27</text>
<text x="252.56" y="655.60" font-size="6.9" fill="#333" stroke="#333" stroke-width="0.2" text-anchor="middle" textLength="7.14" lengthAdjust="spacingAndGlyphs">23</text>
<text x="286.64" y="655.60" font-size="6.9" fill="#333" stroke="#333" stroke-width="0.2" text-anchor="middle" textLength="7.14" lengthAdjust="spacingAndGlyphs">14</text>
<text x="320.72" y="655.60" font-size="6.9" fill="#333" stroke="#333" stroke-width="0.2" text-anchor="middle" textLength="3.57" lengthAdjust="spacingAndGlyphs">3</text>
<rect x="0" y="0" width="520" height="1" fill="#5a5a5a"/>
<rect x="0" y="0" width="1" height="664" fill="#4a4a4a"/>
<rect x="519" y="0" width="1" height="664" fill="#333"/>
<rect x="518" y="0" width="1" height="664" fill="#e4e4e4"/>
<rect x="0" y="663" width="520" height="1" fill="#3a3a3a"/>
<rect x="0" y="662" width="519" height="1" fill="#bdbdbd"/>
</svg></body></html>
